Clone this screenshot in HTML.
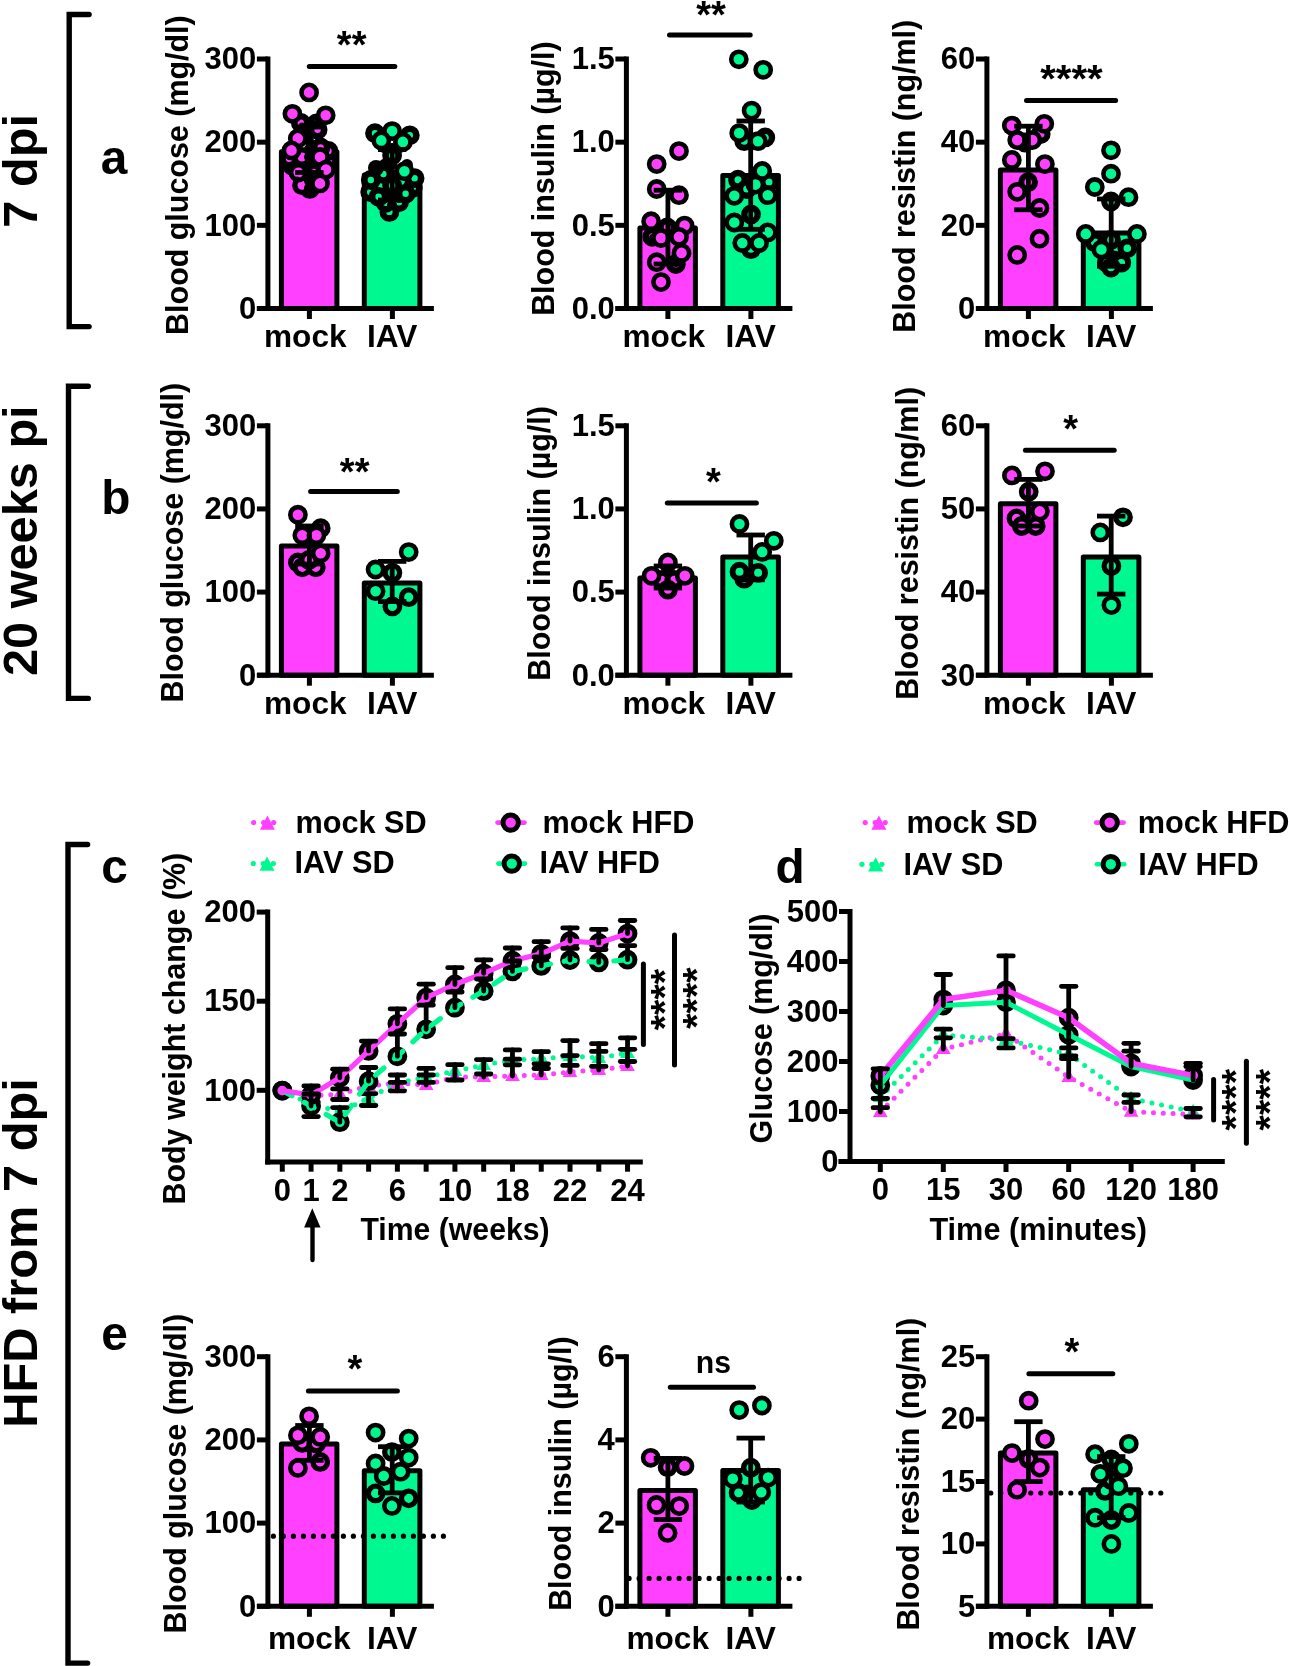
<!DOCTYPE html><html><head><meta charset="utf-8"><style>html,body{margin:0;padding:0;background:#fff;}svg{display:block;will-change:transform;}</style></head><body><svg width="1289" height="1666" viewBox="0 0 1289 1666" style="font-family:&quot;Liberation Sans&quot;, sans-serif;font-weight:bold">
<rect width="1289" height="1666" fill="#fff"/>
<path d="M89.1,14.5 L69.2,14.5 L69.2,326.6 L89.1,326.6" fill="none" stroke="#000" stroke-width="5.4" stroke-linecap="round" stroke-linejoin="miter"/>
<path d="M88.3,386.2 L68.5,386.2 L68.5,698.4 L88.3,698.4" fill="none" stroke="#000" stroke-width="5.4" stroke-linecap="round" stroke-linejoin="miter"/>
<path d="M87.6,844.5 L68.0,844.5 L68.0,1663.1 L87.6,1663.1" fill="none" stroke="#000" stroke-width="5.4" stroke-linecap="round" stroke-linejoin="miter"/>
<text transform="translate(36.70,170.85) rotate(-90) scale(0.994,1)" font-size="49" text-anchor="middle" fill="#000">7 dpi</text>
<text transform="translate(36.80,540.70) rotate(-90) scale(0.994,1)" font-size="49" text-anchor="middle" fill="#000">20 weeks pi</text>
<text transform="translate(36.60,1253.00) rotate(-90) scale(0.996,1)" font-size="49" text-anchor="middle" fill="#000">HFD from 7 dpi</text>
<text transform="translate(114.00,173.60) scale(0.975,1)" font-size="49" text-anchor="middle" fill="#000">a</text>
<text transform="translate(115.80,513.50) scale(0.975,1)" font-size="49" text-anchor="middle" fill="#000">b</text>
<text transform="translate(114.50,883.00) scale(0.975,1)" font-size="49" text-anchor="middle" fill="#000">c</text>
<text transform="translate(790.00,883.30) scale(0.975,1)" font-size="49" text-anchor="middle" fill="#000">d</text>
<text transform="translate(114.50,1350.30) scale(0.975,1)" font-size="49" text-anchor="middle" fill="#000">e</text>
<rect x="281.40" y="151.80" width="55.50" height="156.70" fill="#ff40ff" stroke="#000" stroke-width="5.0" stroke-linejoin="round"/>
<rect x="364.30" y="175.00" width="55.60" height="133.50" fill="#00f891" stroke="#000" stroke-width="5.0" stroke-linejoin="round"/>
<circle cx="316.40" cy="123.40" r="6.550000000000001" fill="#ff40ff" stroke="#000" stroke-width="6.7"/>
<circle cx="309.80" cy="188.90" r="6.550000000000001" fill="#ff40ff" stroke="#000" stroke-width="6.7"/>
<circle cx="302.00" cy="185.20" r="7.2" fill="#ff40ff" stroke="#000" stroke-width="5.4"/>
<circle cx="292.00" cy="165.40" r="6.550000000000001" fill="#ff40ff" stroke="#000" stroke-width="6.7"/>
<circle cx="289.00" cy="158.80" r="6.550000000000001" fill="#ff40ff" stroke="#000" stroke-width="6.7"/>
<circle cx="329.00" cy="160.00" r="6.550000000000001" fill="#ff40ff" stroke="#000" stroke-width="6.7"/>
<circle cx="302.00" cy="157.00" r="7.2" fill="#ff40ff" stroke="#000" stroke-width="5.4"/>
<circle cx="328.50" cy="151.00" r="6.550000000000001" fill="#ff40ff" stroke="#000" stroke-width="6.7"/>
<circle cx="320.60" cy="147.40" r="6.550000000000001" fill="#ff40ff" stroke="#000" stroke-width="6.7"/>
<circle cx="317.60" cy="129.70" r="6.550000000000001" fill="#ff40ff" stroke="#000" stroke-width="6.7"/>
<circle cx="300.80" cy="122.80" r="6.550000000000001" fill="#ff40ff" stroke="#000" stroke-width="6.7"/>
<circle cx="313.40" cy="172.00" r="6.550000000000001" fill="#ff40ff" stroke="#000" stroke-width="6.7"/>
<circle cx="298.40" cy="172.60" r="7.45" fill="#ff40ff" stroke="#000" stroke-width="4.9"/>
<circle cx="389.40" cy="211.90" r="6.550000000000001" fill="#00f891" stroke="#000" stroke-width="6.7"/>
<circle cx="385.80" cy="202.80" r="6.550000000000001" fill="#00f891" stroke="#000" stroke-width="6.7"/>
<circle cx="399.00" cy="202.20" r="6.550000000000001" fill="#00f891" stroke="#000" stroke-width="6.7"/>
<circle cx="370.20" cy="192.00" r="6.550000000000001" fill="#00f891" stroke="#000" stroke-width="6.7"/>
<circle cx="412.80" cy="187.80" r="6.550000000000001" fill="#00f891" stroke="#000" stroke-width="6.7"/>
<circle cx="414.60" cy="178.20" r="6.550000000000001" fill="#00f891" stroke="#000" stroke-width="6.7"/>
<circle cx="370.80" cy="180.00" r="6.550000000000001" fill="#00f891" stroke="#000" stroke-width="6.7"/>
<circle cx="378.60" cy="196.80" r="6.550000000000001" fill="#00f891" stroke="#000" stroke-width="6.7"/>
<circle cx="405.60" cy="193.80" r="6.550000000000001" fill="#00f891" stroke="#000" stroke-width="6.7"/>
<circle cx="392.10" cy="185.40" r="6.550000000000001" fill="#00f891" stroke="#000" stroke-width="6.7"/>
<circle cx="383.40" cy="174.00" r="6.550000000000001" fill="#00f891" stroke="#000" stroke-width="6.7"/>
<circle cx="392.10" cy="155.40" r="6.550000000000001" fill="#00f891" stroke="#000" stroke-width="6.7"/>
<circle cx="375.00" cy="133.20" r="6.550000000000001" fill="#00f891" stroke="#000" stroke-width="6.7"/>
<circle cx="409.80" cy="135.30" r="6.550000000000001" fill="#00f891" stroke="#000" stroke-width="6.7"/>
<circle cx="309.00" cy="133.00" r="5" fill="#000"/>
<circle cx="309.00" cy="141.00" r="5" fill="#000"/>
<circle cx="309.00" cy="149.00" r="5" fill="#000"/>
<circle cx="309.00" cy="157.00" r="5" fill="#000"/>
<circle cx="309.00" cy="165.00" r="5" fill="#000"/>
<circle cx="309.00" cy="173.00" r="5" fill="#000"/>
<circle cx="309.00" cy="181.00" r="5" fill="#000"/>
<circle cx="309.00" cy="188.00" r="5" fill="#000"/>
<circle cx="302.00" cy="125.50" r="3" fill="#000"/>
<circle cx="313.00" cy="125.50" r="3" fill="#000"/>
<circle cx="297.00" cy="179.50" r="3" fill="#000"/>
<circle cx="322.00" cy="177.00" r="3.5" fill="#000"/>
<circle cx="376.00" cy="168.00" r="8" fill="#000"/>
<circle cx="384.00" cy="164.00" r="5" fill="#000"/>
<circle cx="407.00" cy="165.00" r="6" fill="#000"/>
<circle cx="392.00" cy="148.00" r="5" fill="#000"/>
<circle cx="384.00" cy="149.00" r="4" fill="#000"/>
<circle cx="400.00" cy="149.00" r="4" fill="#000"/>
<circle cx="392.00" cy="165.00" r="5" fill="#000"/>
<circle cx="392.00" cy="174.00" r="5" fill="#000"/>
<circle cx="392.00" cy="196.00" r="5" fill="#000"/>
<circle cx="392.00" cy="205.00" r="5" fill="#000"/>
<circle cx="385.00" cy="200.00" r="3" fill="#000"/>
<circle cx="399.00" cy="200.00" r="3" fill="#000"/>
<circle cx="309.10" cy="92.40" r="7.6" fill="#ff40ff" stroke="#000" stroke-width="4.6"/>
<circle cx="292.40" cy="113.80" r="7.6" fill="#ff40ff" stroke="#000" stroke-width="4.6"/>
<circle cx="325.70" cy="115.30" r="7.6" fill="#ff40ff" stroke="#000" stroke-width="4.6"/>
<circle cx="297.80" cy="138.40" r="7.6" fill="#ff40ff" stroke="#000" stroke-width="4.6"/>
<circle cx="291.50" cy="150.40" r="7.6" fill="#ff40ff" stroke="#000" stroke-width="4.6"/>
<circle cx="320.00" cy="157.00" r="7.6" fill="#ff40ff" stroke="#000" stroke-width="4.6"/>
<circle cx="326.00" cy="169.60" r="7.6" fill="#ff40ff" stroke="#000" stroke-width="4.6"/>
<circle cx="320.00" cy="183.40" r="7.6" fill="#ff40ff" stroke="#000" stroke-width="4.6"/>
<circle cx="392.10" cy="131.10" r="7.6" fill="#00f891" stroke="#000" stroke-width="4.6"/>
<circle cx="381.30" cy="140.40" r="7.6" fill="#00f891" stroke="#000" stroke-width="4.6"/>
<circle cx="402.90" cy="141.90" r="7.6" fill="#00f891" stroke="#000" stroke-width="4.6"/>
<circle cx="404.40" cy="171.30" r="7.6" fill="#00f891" stroke="#000" stroke-width="4.6"/>
<line x1="309.40" y1="127.00" x2="309.40" y2="172.50" stroke="#000" stroke-width="4.8" stroke-linecap="butt" />
<line x1="295.20" y1="127.00" x2="323.60" y2="127.00" stroke="#000" stroke-width="4.8" stroke-linecap="butt" />
<line x1="295.20" y1="172.50" x2="323.60" y2="172.50" stroke="#000" stroke-width="4.8" stroke-linecap="butt" />
<line x1="392.20" y1="149.60" x2="392.20" y2="200.00" stroke="#000" stroke-width="4.8" stroke-linecap="butt" />
<line x1="378.00" y1="149.60" x2="406.40" y2="149.60" stroke="#000" stroke-width="4.8" stroke-linecap="butt" />
<line x1="378.00" y1="200.00" x2="406.40" y2="200.00" stroke="#000" stroke-width="4.8" stroke-linecap="butt" />
<line x1="267.90" y1="56.50" x2="267.90" y2="310.90" stroke="#000" stroke-width="5.0" stroke-linecap="butt" />
<line x1="256.90" y1="308.50" x2="433.90" y2="308.50" stroke="#000" stroke-width="5.0" stroke-linecap="butt" />
<line x1="256.90" y1="308.50" x2="267.90" y2="308.50" stroke="#000" stroke-width="5.0" stroke-linecap="butt" />
<text transform="translate(256.30,318.80)" font-size="31" text-anchor="end" fill="#000">0</text>
<line x1="256.90" y1="225.33" x2="267.90" y2="225.33" stroke="#000" stroke-width="5.0" stroke-linecap="butt" />
<text transform="translate(256.30,235.63)" font-size="31" text-anchor="end" fill="#000">100</text>
<line x1="256.90" y1="142.17" x2="267.90" y2="142.17" stroke="#000" stroke-width="5.0" stroke-linecap="butt" />
<text transform="translate(256.30,152.47)" font-size="31" text-anchor="end" fill="#000">200</text>
<line x1="256.90" y1="59.00" x2="267.90" y2="59.00" stroke="#000" stroke-width="5.0" stroke-linecap="butt" />
<text transform="translate(256.30,69.30)" font-size="31" text-anchor="end" fill="#000">300</text>
<line x1="309.40" y1="308.50" x2="309.40" y2="319.00" stroke="#000" stroke-width="5.0" stroke-linecap="butt" />
<line x1="392.40" y1="308.50" x2="392.40" y2="319.00" stroke="#000" stroke-width="5.0" stroke-linecap="butt" />
<text transform="translate(305.30,347.40) scale(1.02,1)" font-size="31" text-anchor="middle" fill="#000">mock</text>
<text transform="translate(392.20,347.40) scale(1.02,1)" font-size="31" text-anchor="middle" fill="#000">IAV</text>
<text transform="translate(188.00,175.10) rotate(-90) scale(0.982,1)" font-size="31" text-anchor="middle" fill="#000">Blood glucose (mg/dl)</text>
<line x1="309.30" y1="66.40" x2="394.80" y2="66.40" stroke="#000" stroke-width="5" stroke-linecap="round" />
<text transform="translate(351.65,58.00) scale(0.975,1)" font-size="39" text-anchor="middle" fill="#000">**</text>
<rect x="639.90" y="228.00" width="55.50" height="80.50" fill="#ff40ff" stroke="#000" stroke-width="5.0" stroke-linejoin="round"/>
<rect x="722.80" y="175.50" width="55.60" height="133.00" fill="#00f891" stroke="#000" stroke-width="5.0" stroke-linejoin="round"/>
<circle cx="667.20" cy="227.40" r="6.7" fill="#ff40ff" stroke="#000" stroke-width="6.4"/>
<circle cx="652.30" cy="236.80" r="6.7" fill="#ff40ff" stroke="#000" stroke-width="6.4"/>
<circle cx="675.90" cy="264.00" r="6.7" fill="#ff40ff" stroke="#000" stroke-width="6.4"/>
<circle cx="765.30" cy="137.40" r="6.7" fill="#00f891" stroke="#000" stroke-width="6.4"/>
<circle cx="744.20" cy="141.20" r="6.7" fill="#00f891" stroke="#000" stroke-width="6.4"/>
<circle cx="738.00" cy="179.70" r="6.7" fill="#00f891" stroke="#000" stroke-width="6.4"/>
<circle cx="746.70" cy="189.00" r="6.7" fill="#00f891" stroke="#000" stroke-width="6.4"/>
<circle cx="769.00" cy="182.10" r="6.7" fill="#00f891" stroke="#000" stroke-width="6.4"/>
<circle cx="751.00" cy="214.40" r="6.7" fill="#00f891" stroke="#000" stroke-width="6.4"/>
<circle cx="751.00" cy="249.20" r="6.7" fill="#00f891" stroke="#000" stroke-width="6.4"/>
<circle cx="676.00" cy="262.00" r="5" fill="#000"/>
<circle cx="653.00" cy="238.00" r="4" fill="#000"/>
<circle cx="679.00" cy="151.10" r="7.6" fill="#ff40ff" stroke="#000" stroke-width="4.6"/>
<circle cx="656.70" cy="164.10" r="7.6" fill="#ff40ff" stroke="#000" stroke-width="4.6"/>
<circle cx="656.70" cy="189.00" r="7.6" fill="#ff40ff" stroke="#000" stroke-width="4.6"/>
<circle cx="679.00" cy="195.20" r="7.6" fill="#ff40ff" stroke="#000" stroke-width="4.6"/>
<circle cx="651.10" cy="221.20" r="7.6" fill="#ff40ff" stroke="#000" stroke-width="4.6"/>
<circle cx="684.60" cy="225.60" r="7.6" fill="#ff40ff" stroke="#000" stroke-width="4.6"/>
<circle cx="661.00" cy="238.00" r="7.6" fill="#ff40ff" stroke="#000" stroke-width="4.6"/>
<circle cx="679.00" cy="236.80" r="7.6" fill="#ff40ff" stroke="#000" stroke-width="4.6"/>
<circle cx="681.50" cy="252.90" r="7.6" fill="#ff40ff" stroke="#000" stroke-width="4.6"/>
<circle cx="656.70" cy="262.20" r="7.6" fill="#ff40ff" stroke="#000" stroke-width="4.6"/>
<circle cx="661.00" cy="282.10" r="7.6" fill="#ff40ff" stroke="#000" stroke-width="4.6"/>
<circle cx="738.80" cy="59.30" r="7.6" fill="#00f891" stroke="#000" stroke-width="4.6"/>
<circle cx="763.20" cy="69.80" r="7.6" fill="#00f891" stroke="#000" stroke-width="4.6"/>
<circle cx="751.60" cy="110.60" r="7.6" fill="#00f891" stroke="#000" stroke-width="4.6"/>
<circle cx="739.20" cy="133.10" r="7.6" fill="#00f891" stroke="#000" stroke-width="4.6"/>
<circle cx="757.90" cy="141.20" r="7.6" fill="#00f891" stroke="#000" stroke-width="4.6"/>
<circle cx="762.20" cy="171.00" r="7.6" fill="#00f891" stroke="#000" stroke-width="4.6"/>
<circle cx="755.40" cy="184.60" r="7.6" fill="#00f891" stroke="#000" stroke-width="4.6"/>
<circle cx="734.30" cy="195.80" r="7.6" fill="#00f891" stroke="#000" stroke-width="4.6"/>
<circle cx="767.80" cy="195.20" r="7.6" fill="#00f891" stroke="#000" stroke-width="4.6"/>
<circle cx="734.30" cy="222.50" r="7.6" fill="#00f891" stroke="#000" stroke-width="4.6"/>
<circle cx="767.80" cy="232.40" r="7.6" fill="#00f891" stroke="#000" stroke-width="4.6"/>
<circle cx="742.30" cy="243.00" r="7.6" fill="#00f891" stroke="#000" stroke-width="4.6"/>
<circle cx="759.10" cy="243.00" r="7.6" fill="#00f891" stroke="#000" stroke-width="4.6"/>
<line x1="667.90" y1="190.20" x2="667.90" y2="264.00" stroke="#000" stroke-width="4.8" stroke-linecap="butt" />
<line x1="653.70" y1="190.20" x2="682.10" y2="190.20" stroke="#000" stroke-width="4.8" stroke-linecap="butt" />
<line x1="653.70" y1="264.00" x2="682.10" y2="264.00" stroke="#000" stroke-width="4.8" stroke-linecap="butt" />
<line x1="750.70" y1="121.00" x2="750.70" y2="229.30" stroke="#000" stroke-width="4.8" stroke-linecap="butt" />
<line x1="736.50" y1="121.00" x2="764.90" y2="121.00" stroke="#000" stroke-width="4.8" stroke-linecap="butt" />
<line x1="736.50" y1="229.30" x2="764.90" y2="229.30" stroke="#000" stroke-width="4.8" stroke-linecap="butt" />
<line x1="626.40" y1="56.50" x2="626.40" y2="310.90" stroke="#000" stroke-width="5.0" stroke-linecap="butt" />
<line x1="615.40" y1="308.50" x2="792.40" y2="308.50" stroke="#000" stroke-width="5.0" stroke-linecap="butt" />
<line x1="615.40" y1="308.50" x2="626.40" y2="308.50" stroke="#000" stroke-width="5.0" stroke-linecap="butt" />
<text transform="translate(614.80,318.80)" font-size="31" text-anchor="end" fill="#000">0.0</text>
<line x1="615.40" y1="225.33" x2="626.40" y2="225.33" stroke="#000" stroke-width="5.0" stroke-linecap="butt" />
<text transform="translate(614.80,235.63)" font-size="31" text-anchor="end" fill="#000">0.5</text>
<line x1="615.40" y1="142.17" x2="626.40" y2="142.17" stroke="#000" stroke-width="5.0" stroke-linecap="butt" />
<text transform="translate(614.80,152.47)" font-size="31" text-anchor="end" fill="#000">1.0</text>
<line x1="615.40" y1="59.00" x2="626.40" y2="59.00" stroke="#000" stroke-width="5.0" stroke-linecap="butt" />
<text transform="translate(614.80,69.30)" font-size="31" text-anchor="end" fill="#000">1.5</text>
<line x1="667.90" y1="308.50" x2="667.90" y2="319.00" stroke="#000" stroke-width="5.0" stroke-linecap="butt" />
<line x1="750.90" y1="308.50" x2="750.90" y2="319.00" stroke="#000" stroke-width="5.0" stroke-linecap="butt" />
<text transform="translate(663.80,347.40) scale(1.02,1)" font-size="31" text-anchor="middle" fill="#000">mock</text>
<text transform="translate(750.70,347.40) scale(1.02,1)" font-size="31" text-anchor="middle" fill="#000">IAV</text>
<text transform="translate(553.90,178.60) rotate(-90) scale(0.982,1)" font-size="31" text-anchor="middle" fill="#000">Blood insulin (µg/l)</text>
<line x1="669.50" y1="35.00" x2="750.20" y2="35.00" stroke="#000" stroke-width="5" stroke-linecap="round" />
<text transform="translate(710.95,27.50) scale(0.975,1)" font-size="39" text-anchor="middle" fill="#000">**</text>
<rect x="1000.40" y="170.00" width="55.50" height="138.50" fill="#ff40ff" stroke="#000" stroke-width="5.0" stroke-linejoin="round"/>
<rect x="1083.30" y="233.00" width="55.60" height="75.50" fill="#00f891" stroke="#000" stroke-width="5.0" stroke-linejoin="round"/>
<circle cx="1040.70" cy="134.00" r="6.85" fill="#ff40ff" stroke="#000" stroke-width="6.1000000000000005"/>
<circle cx="1025.00" cy="142.50" r="6.85" fill="#ff40ff" stroke="#000" stroke-width="6.1000000000000005"/>
<circle cx="1028.10" cy="182.20" r="6.85" fill="#ff40ff" stroke="#000" stroke-width="6.1000000000000005"/>
<circle cx="1111.00" cy="201.40" r="6.85" fill="#00f891" stroke="#000" stroke-width="6.1000000000000005"/>
<circle cx="1094.80" cy="242.30" r="6.85" fill="#00f891" stroke="#000" stroke-width="6.1000000000000005"/>
<circle cx="1127.30" cy="248.30" r="6.85" fill="#00f891" stroke="#000" stroke-width="6.1000000000000005"/>
<circle cx="1111.00" cy="239.90" r="6.85" fill="#00f891" stroke="#000" stroke-width="6.1000000000000005"/>
<circle cx="1114.00" cy="260.30" r="6.85" fill="#00f891" stroke="#000" stroke-width="6.1000000000000005"/>
<circle cx="1106.80" cy="262.70" r="6.85" fill="#00f891" stroke="#000" stroke-width="6.1000000000000005"/>
<circle cx="1121.30" cy="262.70" r="6.85" fill="#00f891" stroke="#000" stroke-width="6.1000000000000005"/>
<circle cx="1111.00" cy="267.50" r="6.85" fill="#00f891" stroke="#000" stroke-width="6.1000000000000005"/>
<circle cx="1011.80" cy="125.60" r="7.6" fill="#ff40ff" stroke="#000" stroke-width="4.6"/>
<circle cx="1044.30" cy="123.80" r="7.6" fill="#ff40ff" stroke="#000" stroke-width="4.6"/>
<circle cx="1017.20" cy="140.10" r="7.6" fill="#ff40ff" stroke="#000" stroke-width="4.6"/>
<circle cx="1032.30" cy="140.10" r="7.6" fill="#ff40ff" stroke="#000" stroke-width="4.6"/>
<circle cx="1011.80" cy="159.90" r="7.6" fill="#ff40ff" stroke="#000" stroke-width="4.6"/>
<circle cx="1044.90" cy="164.10" r="7.6" fill="#ff40ff" stroke="#000" stroke-width="4.6"/>
<circle cx="1017.20" cy="191.80" r="7.6" fill="#ff40ff" stroke="#000" stroke-width="4.6"/>
<circle cx="1039.50" cy="208.00" r="7.6" fill="#ff40ff" stroke="#000" stroke-width="4.6"/>
<circle cx="1039.50" cy="238.70" r="7.6" fill="#ff40ff" stroke="#000" stroke-width="4.6"/>
<circle cx="1017.20" cy="254.90" r="7.6" fill="#ff40ff" stroke="#000" stroke-width="4.6"/>
<circle cx="1111.00" cy="150.30" r="7.6" fill="#00f891" stroke="#000" stroke-width="4.6"/>
<circle cx="1111.00" cy="173.70" r="7.6" fill="#00f891" stroke="#000" stroke-width="4.6"/>
<circle cx="1094.80" cy="187.00" r="7.6" fill="#00f891" stroke="#000" stroke-width="4.6"/>
<circle cx="1128.50" cy="197.20" r="7.6" fill="#00f891" stroke="#000" stroke-width="4.6"/>
<circle cx="1085.80" cy="233.90" r="7.6" fill="#00f891" stroke="#000" stroke-width="4.6"/>
<circle cx="1136.90" cy="233.90" r="7.6" fill="#00f891" stroke="#000" stroke-width="4.6"/>
<circle cx="1101.40" cy="249.50" r="7.6" fill="#00f891" stroke="#000" stroke-width="4.6"/>
<line x1="1028.40" y1="126.20" x2="1028.40" y2="209.80" stroke="#000" stroke-width="4.8" stroke-linecap="butt" />
<line x1="1014.20" y1="126.20" x2="1042.60" y2="126.20" stroke="#000" stroke-width="4.8" stroke-linecap="butt" />
<line x1="1014.20" y1="209.80" x2="1042.60" y2="209.80" stroke="#000" stroke-width="4.8" stroke-linecap="butt" />
<line x1="1111.20" y1="199.00" x2="1111.20" y2="266.30" stroke="#000" stroke-width="4.8" stroke-linecap="butt" />
<line x1="1097.00" y1="199.00" x2="1125.40" y2="199.00" stroke="#000" stroke-width="4.8" stroke-linecap="butt" />
<line x1="1097.00" y1="266.30" x2="1125.40" y2="266.30" stroke="#000" stroke-width="4.8" stroke-linecap="butt" />
<line x1="986.90" y1="56.50" x2="986.90" y2="310.90" stroke="#000" stroke-width="5.0" stroke-linecap="butt" />
<line x1="975.90" y1="308.50" x2="1152.90" y2="308.50" stroke="#000" stroke-width="5.0" stroke-linecap="butt" />
<line x1="975.90" y1="308.50" x2="986.90" y2="308.50" stroke="#000" stroke-width="5.0" stroke-linecap="butt" />
<text transform="translate(975.30,318.80)" font-size="31" text-anchor="end" fill="#000">0</text>
<line x1="975.90" y1="225.33" x2="986.90" y2="225.33" stroke="#000" stroke-width="5.0" stroke-linecap="butt" />
<text transform="translate(975.30,235.63)" font-size="31" text-anchor="end" fill="#000">20</text>
<line x1="975.90" y1="142.17" x2="986.90" y2="142.17" stroke="#000" stroke-width="5.0" stroke-linecap="butt" />
<text transform="translate(975.30,152.47)" font-size="31" text-anchor="end" fill="#000">40</text>
<line x1="975.90" y1="59.00" x2="986.90" y2="59.00" stroke="#000" stroke-width="5.0" stroke-linecap="butt" />
<text transform="translate(975.30,69.30)" font-size="31" text-anchor="end" fill="#000">60</text>
<line x1="1028.40" y1="308.50" x2="1028.40" y2="319.00" stroke="#000" stroke-width="5.0" stroke-linecap="butt" />
<line x1="1111.40" y1="308.50" x2="1111.40" y2="319.00" stroke="#000" stroke-width="5.0" stroke-linecap="butt" />
<text transform="translate(1024.30,347.40) scale(1.02,1)" font-size="31" text-anchor="middle" fill="#000">mock</text>
<text transform="translate(1111.20,347.40) scale(1.02,1)" font-size="31" text-anchor="middle" fill="#000">IAV</text>
<text transform="translate(914.70,176.30) rotate(-90) scale(0.982,1)" font-size="31" text-anchor="middle" fill="#000">Blood resistin (ng/ml)</text>
<line x1="1026.50" y1="100.50" x2="1115.60" y2="100.50" stroke="#000" stroke-width="5" stroke-linecap="round" />
<text transform="translate(1071.45,91.60) scale(1.03,1)" font-size="39" text-anchor="middle" fill="#000">****</text>
<rect x="281.40" y="545.90" width="55.50" height="129.30" fill="#ff40ff" stroke="#000" stroke-width="5.0" stroke-linejoin="round"/>
<rect x="364.30" y="583.00" width="55.60" height="92.20" fill="#00f891" stroke="#000" stroke-width="5.0" stroke-linejoin="round"/>
<circle cx="320.70" cy="528.20" r="7.25" fill="#ff40ff" stroke="#000" stroke-width="5.300000000000001"/>
<circle cx="297.90" cy="562.50" r="7.25" fill="#ff40ff" stroke="#000" stroke-width="5.300000000000001"/>
<circle cx="302.30" cy="567.30" r="7.25" fill="#ff40ff" stroke="#000" stroke-width="5.300000000000001"/>
<circle cx="315.80" cy="567.30" r="7.25" fill="#ff40ff" stroke="#000" stroke-width="5.300000000000001"/>
<circle cx="309.00" cy="560.00" r="7.25" fill="#ff40ff" stroke="#000" stroke-width="5.300000000000001"/>
<circle cx="392.40" cy="572.80" r="7.25" fill="#00f891" stroke="#000" stroke-width="5.300000000000001"/>
<circle cx="408.70" cy="597.20" r="7.25" fill="#00f891" stroke="#000" stroke-width="5.300000000000001"/>
<circle cx="392.40" cy="606.40" r="7.25" fill="#00f891" stroke="#000" stroke-width="5.300000000000001"/>
<circle cx="297.90" cy="514.70" r="7.6" fill="#ff40ff" stroke="#000" stroke-width="4.6"/>
<circle cx="302.30" cy="535.30" r="7.6" fill="#ff40ff" stroke="#000" stroke-width="4.6"/>
<circle cx="316.40" cy="535.30" r="7.6" fill="#ff40ff" stroke="#000" stroke-width="4.6"/>
<circle cx="320.70" cy="553.20" r="7.6" fill="#ff40ff" stroke="#000" stroke-width="4.6"/>
<circle cx="408.70" cy="552.10" r="7.6" fill="#00f891" stroke="#000" stroke-width="4.6"/>
<circle cx="375.60" cy="569.50" r="7.6" fill="#00f891" stroke="#000" stroke-width="4.6"/>
<circle cx="375.60" cy="591.20" r="7.6" fill="#00f891" stroke="#000" stroke-width="4.6"/>
<line x1="309.40" y1="526.00" x2="309.40" y2="564.00" stroke="#000" stroke-width="4.8" stroke-linecap="butt" />
<line x1="295.20" y1="526.00" x2="323.60" y2="526.00" stroke="#000" stroke-width="4.8" stroke-linecap="butt" />
<line x1="295.20" y1="564.00" x2="323.60" y2="564.00" stroke="#000" stroke-width="4.8" stroke-linecap="butt" />
<line x1="392.20" y1="561.40" x2="392.20" y2="601.60" stroke="#000" stroke-width="4.8" stroke-linecap="butt" />
<line x1="378.00" y1="561.40" x2="406.40" y2="561.40" stroke="#000" stroke-width="4.8" stroke-linecap="butt" />
<line x1="378.00" y1="601.60" x2="406.40" y2="601.60" stroke="#000" stroke-width="4.8" stroke-linecap="butt" />
<line x1="267.90" y1="423.30" x2="267.90" y2="677.60" stroke="#000" stroke-width="5.0" stroke-linecap="butt" />
<line x1="256.90" y1="675.20" x2="433.90" y2="675.20" stroke="#000" stroke-width="5.0" stroke-linecap="butt" />
<line x1="256.90" y1="675.20" x2="267.90" y2="675.20" stroke="#000" stroke-width="5.0" stroke-linecap="butt" />
<text transform="translate(256.30,685.50)" font-size="31" text-anchor="end" fill="#000">0</text>
<line x1="256.90" y1="592.07" x2="267.90" y2="592.07" stroke="#000" stroke-width="5.0" stroke-linecap="butt" />
<text transform="translate(256.30,602.37)" font-size="31" text-anchor="end" fill="#000">100</text>
<line x1="256.90" y1="508.93" x2="267.90" y2="508.93" stroke="#000" stroke-width="5.0" stroke-linecap="butt" />
<text transform="translate(256.30,519.23)" font-size="31" text-anchor="end" fill="#000">200</text>
<line x1="256.90" y1="425.80" x2="267.90" y2="425.80" stroke="#000" stroke-width="5.0" stroke-linecap="butt" />
<text transform="translate(256.30,436.10)" font-size="31" text-anchor="end" fill="#000">300</text>
<line x1="309.40" y1="675.20" x2="309.40" y2="685.70" stroke="#000" stroke-width="5.0" stroke-linecap="butt" />
<line x1="392.40" y1="675.20" x2="392.40" y2="685.70" stroke="#000" stroke-width="5.0" stroke-linecap="butt" />
<text transform="translate(305.30,714.10) scale(1.02,1)" font-size="31" text-anchor="middle" fill="#000">mock</text>
<text transform="translate(392.20,714.10) scale(1.02,1)" font-size="31" text-anchor="middle" fill="#000">IAV</text>
<text transform="translate(182.80,542.70) rotate(-90) scale(0.982,1)" font-size="31" text-anchor="middle" fill="#000">Blood glucose (mg/dl)</text>
<line x1="310.60" y1="491.60" x2="397.30" y2="491.60" stroke="#000" stroke-width="5" stroke-linecap="round" />
<text transform="translate(354.65,484.50) scale(0.975,1)" font-size="39" text-anchor="middle" fill="#000">**</text>
<rect x="639.90" y="578.00" width="55.50" height="97.20" fill="#ff40ff" stroke="#000" stroke-width="5.0" stroke-linejoin="round"/>
<rect x="722.80" y="557.00" width="55.60" height="118.20" fill="#00f891" stroke="#000" stroke-width="5.0" stroke-linejoin="round"/>
<circle cx="661.50" cy="579.80" r="6.95" fill="#ff40ff" stroke="#000" stroke-width="5.9"/>
<circle cx="674.30" cy="579.80" r="6.95" fill="#ff40ff" stroke="#000" stroke-width="5.9"/>
<circle cx="667.90" cy="589.70" r="6.95" fill="#ff40ff" stroke="#000" stroke-width="5.9"/>
<circle cx="744.20" cy="578.70" r="6.95" fill="#00f891" stroke="#000" stroke-width="5.9"/>
<circle cx="739.50" cy="571.70" r="6.95" fill="#00f891" stroke="#000" stroke-width="5.9"/>
<circle cx="758.10" cy="572.80" r="6.95" fill="#00f891" stroke="#000" stroke-width="5.9"/>
<circle cx="667.90" cy="562.40" r="7.6" fill="#ff40ff" stroke="#000" stroke-width="4.6"/>
<circle cx="651.60" cy="575.80" r="7.6" fill="#ff40ff" stroke="#000" stroke-width="4.6"/>
<circle cx="684.80" cy="575.80" r="7.6" fill="#ff40ff" stroke="#000" stroke-width="4.6"/>
<circle cx="739.50" cy="524.00" r="7.6" fill="#00f891" stroke="#000" stroke-width="4.6"/>
<circle cx="773.80" cy="540.80" r="7.6" fill="#00f891" stroke="#000" stroke-width="4.6"/>
<circle cx="762.20" cy="551.90" r="7.6" fill="#00f891" stroke="#000" stroke-width="4.6"/>
<line x1="667.90" y1="566.00" x2="667.90" y2="588.00" stroke="#000" stroke-width="4.8" stroke-linecap="butt" />
<line x1="653.70" y1="566.00" x2="682.10" y2="566.00" stroke="#000" stroke-width="4.8" stroke-linecap="butt" />
<line x1="653.70" y1="588.00" x2="682.10" y2="588.00" stroke="#000" stroke-width="4.8" stroke-linecap="butt" />
<line x1="750.70" y1="535.00" x2="750.70" y2="579.80" stroke="#000" stroke-width="4.8" stroke-linecap="butt" />
<line x1="736.50" y1="535.00" x2="764.90" y2="535.00" stroke="#000" stroke-width="4.8" stroke-linecap="butt" />
<line x1="736.50" y1="579.80" x2="764.90" y2="579.80" stroke="#000" stroke-width="4.8" stroke-linecap="butt" />
<line x1="626.40" y1="423.30" x2="626.40" y2="677.60" stroke="#000" stroke-width="5.0" stroke-linecap="butt" />
<line x1="615.40" y1="675.20" x2="792.40" y2="675.20" stroke="#000" stroke-width="5.0" stroke-linecap="butt" />
<line x1="615.40" y1="675.20" x2="626.40" y2="675.20" stroke="#000" stroke-width="5.0" stroke-linecap="butt" />
<text transform="translate(614.80,685.50)" font-size="31" text-anchor="end" fill="#000">0.0</text>
<line x1="615.40" y1="592.07" x2="626.40" y2="592.07" stroke="#000" stroke-width="5.0" stroke-linecap="butt" />
<text transform="translate(614.80,602.37)" font-size="31" text-anchor="end" fill="#000">0.5</text>
<line x1="615.40" y1="508.93" x2="626.40" y2="508.93" stroke="#000" stroke-width="5.0" stroke-linecap="butt" />
<text transform="translate(614.80,519.23)" font-size="31" text-anchor="end" fill="#000">1.0</text>
<line x1="615.40" y1="425.80" x2="626.40" y2="425.80" stroke="#000" stroke-width="5.0" stroke-linecap="butt" />
<text transform="translate(614.80,436.10)" font-size="31" text-anchor="end" fill="#000">1.5</text>
<line x1="667.90" y1="675.20" x2="667.90" y2="685.70" stroke="#000" stroke-width="5.0" stroke-linecap="butt" />
<line x1="750.90" y1="675.20" x2="750.90" y2="685.70" stroke="#000" stroke-width="5.0" stroke-linecap="butt" />
<text transform="translate(663.80,714.10) scale(1.02,1)" font-size="31" text-anchor="middle" fill="#000">mock</text>
<text transform="translate(750.70,714.10) scale(1.02,1)" font-size="31" text-anchor="middle" fill="#000">IAV</text>
<text transform="translate(550.30,543.40) rotate(-90) scale(0.982,1)" font-size="31" text-anchor="middle" fill="#000">Blood insulin (µg/l)</text>
<line x1="667.30" y1="503.00" x2="756.40" y2="503.00" stroke="#000" stroke-width="5" stroke-linecap="round" />
<text transform="translate(713.45,495.40) scale(0.975,1)" font-size="39" text-anchor="middle" fill="#000">*</text>
<rect x="1000.40" y="503.80" width="55.50" height="171.40" fill="#ff40ff" stroke="#000" stroke-width="5.0" stroke-linejoin="round"/>
<rect x="1083.30" y="557.00" width="55.60" height="118.20" fill="#00f891" stroke="#000" stroke-width="5.0" stroke-linejoin="round"/>
<circle cx="1028.70" cy="491.70" r="7.25" fill="#ff40ff" stroke="#000" stroke-width="5.300000000000001"/>
<circle cx="1016.50" cy="518.40" r="7.25" fill="#ff40ff" stroke="#000" stroke-width="5.300000000000001"/>
<circle cx="1021.80" cy="526.00" r="7.25" fill="#ff40ff" stroke="#000" stroke-width="5.300000000000001"/>
<circle cx="1035.70" cy="526.00" r="7.25" fill="#ff40ff" stroke="#000" stroke-width="5.300000000000001"/>
<circle cx="1123.00" cy="517.30" r="7.25" fill="#00f891" stroke="#000" stroke-width="5.300000000000001"/>
<circle cx="1111.40" cy="566.10" r="7.25" fill="#00f891" stroke="#000" stroke-width="5.300000000000001"/>
<circle cx="1011.90" cy="475.40" r="7.6" fill="#ff40ff" stroke="#000" stroke-width="4.6"/>
<circle cx="1045.00" cy="471.30" r="7.6" fill="#ff40ff" stroke="#000" stroke-width="4.6"/>
<circle cx="1039.80" cy="511.40" r="7.6" fill="#ff40ff" stroke="#000" stroke-width="4.6"/>
<circle cx="1100.30" cy="532.40" r="7.6" fill="#00f891" stroke="#000" stroke-width="4.6"/>
<circle cx="1111.40" cy="605.10" r="7.6" fill="#00f891" stroke="#000" stroke-width="4.6"/>
<line x1="1028.40" y1="479.40" x2="1028.40" y2="526.00" stroke="#000" stroke-width="4.8" stroke-linecap="butt" />
<line x1="1014.20" y1="479.40" x2="1042.60" y2="479.40" stroke="#000" stroke-width="4.8" stroke-linecap="butt" />
<line x1="1014.20" y1="526.00" x2="1042.60" y2="526.00" stroke="#000" stroke-width="4.8" stroke-linecap="butt" />
<line x1="1111.20" y1="516.10" x2="1111.20" y2="594.10" stroke="#000" stroke-width="4.8" stroke-linecap="butt" />
<line x1="1097.00" y1="516.10" x2="1125.40" y2="516.10" stroke="#000" stroke-width="4.8" stroke-linecap="butt" />
<line x1="1097.00" y1="594.10" x2="1125.40" y2="594.10" stroke="#000" stroke-width="4.8" stroke-linecap="butt" />
<line x1="986.90" y1="423.30" x2="986.90" y2="677.60" stroke="#000" stroke-width="5.0" stroke-linecap="butt" />
<line x1="975.90" y1="675.20" x2="1152.90" y2="675.20" stroke="#000" stroke-width="5.0" stroke-linecap="butt" />
<line x1="975.90" y1="675.20" x2="986.90" y2="675.20" stroke="#000" stroke-width="5.0" stroke-linecap="butt" />
<text transform="translate(975.30,685.50)" font-size="31" text-anchor="end" fill="#000">30</text>
<line x1="975.90" y1="592.07" x2="986.90" y2="592.07" stroke="#000" stroke-width="5.0" stroke-linecap="butt" />
<text transform="translate(975.30,602.37)" font-size="31" text-anchor="end" fill="#000">40</text>
<line x1="975.90" y1="508.93" x2="986.90" y2="508.93" stroke="#000" stroke-width="5.0" stroke-linecap="butt" />
<text transform="translate(975.30,519.23)" font-size="31" text-anchor="end" fill="#000">50</text>
<line x1="975.90" y1="425.80" x2="986.90" y2="425.80" stroke="#000" stroke-width="5.0" stroke-linecap="butt" />
<text transform="translate(975.30,436.10)" font-size="31" text-anchor="end" fill="#000">60</text>
<line x1="1028.40" y1="675.20" x2="1028.40" y2="685.70" stroke="#000" stroke-width="5.0" stroke-linecap="butt" />
<line x1="1111.40" y1="675.20" x2="1111.40" y2="685.70" stroke="#000" stroke-width="5.0" stroke-linecap="butt" />
<text transform="translate(1024.30,714.10) scale(1.02,1)" font-size="31" text-anchor="middle" fill="#000">mock</text>
<text transform="translate(1111.20,714.10) scale(1.02,1)" font-size="31" text-anchor="middle" fill="#000">IAV</text>
<text transform="translate(918.40,543.40) rotate(-90) scale(0.982,1)" font-size="31" text-anchor="middle" fill="#000">Blood resistin (ng/ml)</text>
<line x1="1025.40" y1="450.30" x2="1114.20" y2="450.30" stroke="#000" stroke-width="5" stroke-linecap="round" />
<text transform="translate(1070.70,442.00) scale(0.975,1)" font-size="39" text-anchor="middle" fill="#000">*</text>
<rect x="281.40" y="1444.00" width="55.50" height="162.30" fill="#ff40ff" stroke="#000" stroke-width="5.0" stroke-linejoin="round"/>
<rect x="364.30" y="1470.70" width="55.60" height="135.60" fill="#00f891" stroke="#000" stroke-width="5.0" stroke-linejoin="round"/>
<line x1="273.40" y1="1536.20" x2="443.60" y2="1536.20" stroke="#000" stroke-width="5.2" stroke-linecap="round" stroke-dasharray="0 10"/>
<circle cx="302.30" cy="1442.90" r="7.25" fill="#ff40ff" stroke="#000" stroke-width="5.300000000000001"/>
<circle cx="316.40" cy="1443.40" r="7.25" fill="#ff40ff" stroke="#000" stroke-width="5.300000000000001"/>
<circle cx="320.20" cy="1461.90" r="7.25" fill="#ff40ff" stroke="#000" stroke-width="5.300000000000001"/>
<circle cx="391.90" cy="1452.10" r="7.25" fill="#00f891" stroke="#000" stroke-width="5.300000000000001"/>
<circle cx="375.60" cy="1493.40" r="7.25" fill="#00f891" stroke="#000" stroke-width="5.300000000000001"/>
<circle cx="408.70" cy="1498.30" r="7.25" fill="#00f891" stroke="#000" stroke-width="5.300000000000001"/>
<circle cx="309.10" cy="1416.30" r="7.6" fill="#ff40ff" stroke="#000" stroke-width="4.6"/>
<circle cx="297.90" cy="1435.30" r="7.6" fill="#ff40ff" stroke="#000" stroke-width="4.6"/>
<circle cx="320.20" cy="1436.90" r="7.6" fill="#ff40ff" stroke="#000" stroke-width="4.6"/>
<circle cx="297.90" cy="1467.90" r="7.6" fill="#ff40ff" stroke="#000" stroke-width="4.6"/>
<circle cx="375.60" cy="1432.60" r="7.6" fill="#00f891" stroke="#000" stroke-width="4.6"/>
<circle cx="408.70" cy="1438.60" r="7.6" fill="#00f891" stroke="#000" stroke-width="4.6"/>
<circle cx="408.70" cy="1457.60" r="7.6" fill="#00f891" stroke="#000" stroke-width="4.6"/>
<circle cx="375.60" cy="1463.50" r="7.6" fill="#00f891" stroke="#000" stroke-width="4.6"/>
<circle cx="383.70" cy="1476.00" r="7.6" fill="#00f891" stroke="#000" stroke-width="4.6"/>
<circle cx="400.60" cy="1471.70" r="7.6" fill="#00f891" stroke="#000" stroke-width="4.6"/>
<circle cx="391.90" cy="1505.90" r="7.6" fill="#00f891" stroke="#000" stroke-width="4.6"/>
<line x1="309.40" y1="1425.50" x2="309.40" y2="1460.30" stroke="#000" stroke-width="4.8" stroke-linecap="butt" />
<line x1="295.20" y1="1425.50" x2="323.60" y2="1425.50" stroke="#000" stroke-width="4.8" stroke-linecap="butt" />
<line x1="295.20" y1="1460.30" x2="323.60" y2="1460.30" stroke="#000" stroke-width="4.8" stroke-linecap="butt" />
<line x1="392.20" y1="1446.70" x2="392.20" y2="1492.90" stroke="#000" stroke-width="4.8" stroke-linecap="butt" />
<line x1="378.00" y1="1446.70" x2="406.40" y2="1446.70" stroke="#000" stroke-width="4.8" stroke-linecap="butt" />
<line x1="378.00" y1="1492.90" x2="406.40" y2="1492.90" stroke="#000" stroke-width="4.8" stroke-linecap="butt" />
<line x1="267.90" y1="1354.20" x2="267.90" y2="1608.70" stroke="#000" stroke-width="5.0" stroke-linecap="butt" />
<line x1="256.90" y1="1606.30" x2="433.90" y2="1606.30" stroke="#000" stroke-width="5.0" stroke-linecap="butt" />
<line x1="256.90" y1="1606.30" x2="267.90" y2="1606.30" stroke="#000" stroke-width="5.0" stroke-linecap="butt" />
<text transform="translate(256.30,1616.60)" font-size="31" text-anchor="end" fill="#000">0</text>
<line x1="256.90" y1="1523.10" x2="267.90" y2="1523.10" stroke="#000" stroke-width="5.0" stroke-linecap="butt" />
<text transform="translate(256.30,1533.40)" font-size="31" text-anchor="end" fill="#000">100</text>
<line x1="256.90" y1="1439.90" x2="267.90" y2="1439.90" stroke="#000" stroke-width="5.0" stroke-linecap="butt" />
<text transform="translate(256.30,1450.20)" font-size="31" text-anchor="end" fill="#000">200</text>
<line x1="256.90" y1="1356.70" x2="267.90" y2="1356.70" stroke="#000" stroke-width="5.0" stroke-linecap="butt" />
<text transform="translate(256.30,1367.00)" font-size="31" text-anchor="end" fill="#000">300</text>
<line x1="309.40" y1="1606.30" x2="309.40" y2="1616.80" stroke="#000" stroke-width="5.0" stroke-linecap="butt" />
<line x1="392.40" y1="1606.30" x2="392.40" y2="1616.80" stroke="#000" stroke-width="5.0" stroke-linecap="butt" />
<text transform="translate(309.20,1649.20) scale(1.02,1)" font-size="31" text-anchor="middle" fill="#000">mock</text>
<text transform="translate(392.20,1649.20) scale(1.02,1)" font-size="31" text-anchor="middle" fill="#000">IAV</text>
<text transform="translate(186.30,1473.70) rotate(-90) scale(0.982,1)" font-size="31" text-anchor="middle" fill="#000">Blood glucose (mg/dl)</text>
<line x1="308.40" y1="1391.00" x2="397.40" y2="1391.00" stroke="#000" stroke-width="5" stroke-linecap="round" />
<text transform="translate(354.80,1382.30) scale(0.975,1)" font-size="39" text-anchor="middle" fill="#000">*</text>
<rect x="639.90" y="1490.40" width="55.50" height="115.90" fill="#ff40ff" stroke="#000" stroke-width="5.0" stroke-linejoin="round"/>
<rect x="722.80" y="1470.60" width="55.60" height="135.70" fill="#00f891" stroke="#000" stroke-width="5.0" stroke-linejoin="round"/>
<line x1="629.10" y1="1578.40" x2="799.40" y2="1578.40" stroke="#000" stroke-width="5.2" stroke-linecap="round" stroke-dasharray="0 10"/>
<circle cx="667.60" cy="1467.20" r="7.15" fill="#ff40ff" stroke="#000" stroke-width="5.5"/>
<circle cx="750.80" cy="1467.70" r="7.15" fill="#00f891" stroke="#000" stroke-width="5.5"/>
<circle cx="746.70" cy="1494.50" r="7.15" fill="#00f891" stroke="#000" stroke-width="5.5"/>
<circle cx="738.60" cy="1492.80" r="7.15" fill="#00f891" stroke="#000" stroke-width="5.5"/>
<circle cx="752.00" cy="1500.00" r="7.15" fill="#00f891" stroke="#000" stroke-width="5.5"/>
<circle cx="650.70" cy="1457.80" r="7.6" fill="#ff40ff" stroke="#000" stroke-width="4.6"/>
<circle cx="684.50" cy="1466.00" r="7.6" fill="#ff40ff" stroke="#000" stroke-width="4.6"/>
<circle cx="656.50" cy="1505.00" r="7.6" fill="#ff40ff" stroke="#000" stroke-width="4.6"/>
<circle cx="679.20" cy="1506.10" r="7.6" fill="#ff40ff" stroke="#000" stroke-width="4.6"/>
<circle cx="667.60" cy="1532.90" r="7.6" fill="#ff40ff" stroke="#000" stroke-width="4.6"/>
<circle cx="739.20" cy="1410.10" r="7.6" fill="#00f891" stroke="#000" stroke-width="4.6"/>
<circle cx="761.90" cy="1405.50" r="7.6" fill="#00f891" stroke="#000" stroke-width="4.6"/>
<circle cx="732.80" cy="1478.80" r="7.6" fill="#00f891" stroke="#000" stroke-width="4.6"/>
<circle cx="768.20" cy="1477.60" r="7.6" fill="#00f891" stroke="#000" stroke-width="4.6"/>
<circle cx="761.30" cy="1492.20" r="7.6" fill="#00f891" stroke="#000" stroke-width="4.6"/>
<line x1="667.90" y1="1458.40" x2="667.90" y2="1519.50" stroke="#000" stroke-width="4.8" stroke-linecap="butt" />
<line x1="653.70" y1="1458.40" x2="682.10" y2="1458.40" stroke="#000" stroke-width="4.8" stroke-linecap="butt" />
<line x1="653.70" y1="1519.50" x2="682.10" y2="1519.50" stroke="#000" stroke-width="4.8" stroke-linecap="butt" />
<line x1="750.70" y1="1438.10" x2="750.70" y2="1502.00" stroke="#000" stroke-width="4.8" stroke-linecap="butt" />
<line x1="736.50" y1="1438.10" x2="764.90" y2="1438.10" stroke="#000" stroke-width="4.8" stroke-linecap="butt" />
<line x1="736.50" y1="1502.00" x2="764.90" y2="1502.00" stroke="#000" stroke-width="4.8" stroke-linecap="butt" />
<line x1="626.40" y1="1354.20" x2="626.40" y2="1608.70" stroke="#000" stroke-width="5.0" stroke-linecap="butt" />
<line x1="615.40" y1="1606.30" x2="792.40" y2="1606.30" stroke="#000" stroke-width="5.0" stroke-linecap="butt" />
<line x1="615.40" y1="1606.30" x2="626.40" y2="1606.30" stroke="#000" stroke-width="5.0" stroke-linecap="butt" />
<text transform="translate(614.80,1616.60)" font-size="31" text-anchor="end" fill="#000">0</text>
<line x1="615.40" y1="1523.10" x2="626.40" y2="1523.10" stroke="#000" stroke-width="5.0" stroke-linecap="butt" />
<text transform="translate(614.80,1533.40)" font-size="31" text-anchor="end" fill="#000">2</text>
<line x1="615.40" y1="1439.90" x2="626.40" y2="1439.90" stroke="#000" stroke-width="5.0" stroke-linecap="butt" />
<text transform="translate(614.80,1450.20)" font-size="31" text-anchor="end" fill="#000">4</text>
<line x1="615.40" y1="1356.70" x2="626.40" y2="1356.70" stroke="#000" stroke-width="5.0" stroke-linecap="butt" />
<text transform="translate(614.80,1367.00)" font-size="31" text-anchor="end" fill="#000">6</text>
<line x1="667.90" y1="1606.30" x2="667.90" y2="1616.80" stroke="#000" stroke-width="5.0" stroke-linecap="butt" />
<line x1="750.90" y1="1606.30" x2="750.90" y2="1616.80" stroke="#000" stroke-width="5.0" stroke-linecap="butt" />
<text transform="translate(667.70,1649.20) scale(1.02,1)" font-size="31" text-anchor="middle" fill="#000">mock</text>
<text transform="translate(750.70,1649.20) scale(1.02,1)" font-size="31" text-anchor="middle" fill="#000">IAV</text>
<text transform="translate(571.20,1473.60) rotate(-90) scale(0.982,1)" font-size="31" text-anchor="middle" fill="#000">Blood insulin (µg/l)</text>
<line x1="670.30" y1="1387.20" x2="753.50" y2="1387.20" stroke="#000" stroke-width="5" stroke-linecap="round" />
<text transform="translate(713.40,1372.70) scale(0.975,1)" font-size="31" text-anchor="middle" fill="#000">ns</text>
<rect x="1000.40" y="1453.00" width="55.50" height="153.30" fill="#ff40ff" stroke="#000" stroke-width="5.0" stroke-linejoin="round"/>
<rect x="1083.30" y="1489.80" width="55.60" height="116.50" fill="#00f891" stroke="#000" stroke-width="5.0" stroke-linejoin="round"/>
<line x1="990.80" y1="1493.00" x2="1161.60" y2="1493.00" stroke="#000" stroke-width="5.2" stroke-linecap="round" stroke-dasharray="0 10"/>
<circle cx="1028.70" cy="1458.90" r="7.15" fill="#ff40ff" stroke="#000" stroke-width="5.5"/>
<circle cx="1111.40" cy="1459.50" r="7.15" fill="#00f891" stroke="#000" stroke-width="5.5"/>
<circle cx="1105.00" cy="1490.90" r="7.15" fill="#00f891" stroke="#000" stroke-width="5.5"/>
<circle cx="1111.40" cy="1520.00" r="7.15" fill="#00f891" stroke="#000" stroke-width="5.5"/>
<circle cx="1111.00" cy="1480.00" r="7.15" fill="#00f891" stroke="#000" stroke-width="5.5"/>
<circle cx="1028.70" cy="1400.70" r="7.6" fill="#ff40ff" stroke="#000" stroke-width="4.6"/>
<circle cx="1045.00" cy="1439.10" r="7.6" fill="#ff40ff" stroke="#000" stroke-width="4.6"/>
<circle cx="1011.90" cy="1453.10" r="7.6" fill="#ff40ff" stroke="#000" stroke-width="4.6"/>
<circle cx="1039.80" cy="1467.60" r="7.6" fill="#ff40ff" stroke="#000" stroke-width="4.6"/>
<circle cx="1017.10" cy="1489.70" r="7.6" fill="#ff40ff" stroke="#000" stroke-width="4.6"/>
<circle cx="1128.80" cy="1443.80" r="7.6" fill="#00f891" stroke="#000" stroke-width="4.6"/>
<circle cx="1095.10" cy="1454.20" r="7.6" fill="#00f891" stroke="#000" stroke-width="4.6"/>
<circle cx="1123.00" cy="1468.20" r="7.6" fill="#00f891" stroke="#000" stroke-width="4.6"/>
<circle cx="1100.30" cy="1474.00" r="7.6" fill="#00f891" stroke="#000" stroke-width="4.6"/>
<circle cx="1118.40" cy="1486.20" r="7.6" fill="#00f891" stroke="#000" stroke-width="4.6"/>
<circle cx="1095.10" cy="1517.70" r="7.6" fill="#00f891" stroke="#000" stroke-width="4.6"/>
<circle cx="1128.80" cy="1513.00" r="7.6" fill="#00f891" stroke="#000" stroke-width="4.6"/>
<circle cx="1111.40" cy="1543.90" r="7.6" fill="#00f891" stroke="#000" stroke-width="4.6"/>
<line x1="1028.40" y1="1421.70" x2="1028.40" y2="1481.60" stroke="#000" stroke-width="4.8" stroke-linecap="butt" />
<line x1="1014.20" y1="1421.70" x2="1042.60" y2="1421.70" stroke="#000" stroke-width="4.8" stroke-linecap="butt" />
<line x1="1014.20" y1="1481.60" x2="1042.60" y2="1481.60" stroke="#000" stroke-width="4.8" stroke-linecap="butt" />
<line x1="1111.20" y1="1456.60" x2="1111.20" y2="1517.70" stroke="#000" stroke-width="4.8" stroke-linecap="butt" />
<line x1="1097.00" y1="1456.60" x2="1125.40" y2="1456.60" stroke="#000" stroke-width="4.8" stroke-linecap="butt" />
<line x1="1097.00" y1="1517.70" x2="1125.40" y2="1517.70" stroke="#000" stroke-width="4.8" stroke-linecap="butt" />
<line x1="986.90" y1="1354.20" x2="986.90" y2="1608.70" stroke="#000" stroke-width="5.0" stroke-linecap="butt" />
<line x1="975.90" y1="1606.30" x2="1152.90" y2="1606.30" stroke="#000" stroke-width="5.0" stroke-linecap="butt" />
<line x1="975.90" y1="1606.30" x2="986.90" y2="1606.30" stroke="#000" stroke-width="5.0" stroke-linecap="butt" />
<text transform="translate(975.30,1616.60)" font-size="31" text-anchor="end" fill="#000">5</text>
<line x1="975.90" y1="1543.90" x2="986.90" y2="1543.90" stroke="#000" stroke-width="5.0" stroke-linecap="butt" />
<text transform="translate(975.30,1554.20)" font-size="31" text-anchor="end" fill="#000">10</text>
<line x1="975.90" y1="1481.50" x2="986.90" y2="1481.50" stroke="#000" stroke-width="5.0" stroke-linecap="butt" />
<text transform="translate(975.30,1491.80)" font-size="31" text-anchor="end" fill="#000">15</text>
<line x1="975.90" y1="1419.10" x2="986.90" y2="1419.10" stroke="#000" stroke-width="5.0" stroke-linecap="butt" />
<text transform="translate(975.30,1429.40)" font-size="31" text-anchor="end" fill="#000">20</text>
<line x1="975.90" y1="1356.70" x2="986.90" y2="1356.70" stroke="#000" stroke-width="5.0" stroke-linecap="butt" />
<text transform="translate(975.30,1367.00)" font-size="31" text-anchor="end" fill="#000">25</text>
<line x1="1028.40" y1="1606.30" x2="1028.40" y2="1616.80" stroke="#000" stroke-width="5.0" stroke-linecap="butt" />
<line x1="1111.40" y1="1606.30" x2="1111.40" y2="1616.80" stroke="#000" stroke-width="5.0" stroke-linecap="butt" />
<text transform="translate(1028.20,1649.20) scale(1.02,1)" font-size="31" text-anchor="middle" fill="#000">mock</text>
<text transform="translate(1111.20,1649.20) scale(1.02,1)" font-size="31" text-anchor="middle" fill="#000">IAV</text>
<text transform="translate(918.50,1474.20) rotate(-90) scale(0.982,1)" font-size="31" text-anchor="middle" fill="#000">Blood resistin (ng/ml)</text>
<line x1="1028.90" y1="1373.80" x2="1112.80" y2="1373.80" stroke="#000" stroke-width="5" stroke-linecap="round" />
<text transform="translate(1072.00,1365.30) scale(0.975,1)" font-size="39" text-anchor="middle" fill="#000">*</text>
<circle cx="253.70" cy="822.60" r="2.6" fill="#ff40ff"/>
<circle cx="263.70" cy="822.60" r="2.6" fill="#ff40ff"/>
<path d="M267.40,815.53 L274.90,829.83 L259.90,829.83 Z" fill="#ff40ff"/>
<circle cx="273.70" cy="822.60" r="2.6" fill="#ff40ff"/>
<text transform="translate(295.40,832.60) scale(0.99,1)" font-size="31" text-anchor="start" fill="#000">mock SD</text>
<circle cx="253.30" cy="863.60" r="2.6" fill="#00f891"/>
<circle cx="263.30" cy="863.60" r="2.6" fill="#00f891"/>
<path d="M267.00,856.53 L274.50,870.83 L259.50,870.83 Z" fill="#00f891"/>
<circle cx="273.30" cy="863.60" r="2.6" fill="#00f891"/>
<text transform="translate(294.60,873.00) scale(0.99,1)" font-size="31" text-anchor="start" fill="#000">IAV SD</text>
<line x1="497.50" y1="822.60" x2="524.50" y2="822.60" stroke="#ff40ff" stroke-width="4.6" stroke-linecap="round" />
<circle cx="510.70" cy="822.60" r="7.7" fill="#ff40ff" stroke="#000" stroke-width="5.0"/>
<text transform="translate(542.60,832.60) scale(0.99,1)" font-size="31" text-anchor="start" fill="#000">mock HFD</text>
<line x1="498.30" y1="863.60" x2="525.00" y2="863.60" stroke="#00f891" stroke-width="4.6" stroke-linecap="round" />
<circle cx="511.80" cy="863.60" r="7.7" fill="#00f891" stroke="#000" stroke-width="5.0"/>
<text transform="translate(539.50,873.00) scale(0.99,1)" font-size="31" text-anchor="start" fill="#000">IAV HFD</text>
<polyline points="282.30,1090.60 311.07,1096.00 339.84,1094.00 368.61,1086.00 397.38,1083.00 426.15,1085.00 454.92,1077.00 483.69,1077.00 512.46,1076.00 541.23,1075.00 570.00,1072.00 598.77,1070.00 627.54,1066.00" fill="none" stroke="#ff40ff" stroke-width="5" stroke-linecap="round" stroke-linejoin="round" stroke-dasharray="0 9.8"/>
<polyline points="282.30,1090.60 311.07,1104.00 339.84,1112.00 368.61,1098.00 397.38,1083.00 426.15,1077.00 454.92,1071.00 483.69,1065.00 512.46,1060.00 541.23,1059.00 570.00,1056.00 598.77,1058.00 627.54,1053.00" fill="none" stroke="#00f891" stroke-width="5" stroke-linecap="round" stroke-linejoin="round" stroke-dasharray="0 9.8"/>
<path d="M311.07,1095.94 L318.42,1108.94 L303.72,1108.94 Z" fill="#00f891"/>
<path d="M311.07,1087.94 L318.42,1100.94 L303.72,1100.94 Z" fill="#ff40ff"/>
<path d="M339.84,1103.94 L347.19,1116.94 L332.49,1116.94 Z" fill="#00f891"/>
<path d="M339.84,1085.94 L347.19,1098.94 L332.49,1098.94 Z" fill="#ff40ff"/>
<path d="M368.61,1089.94 L375.96,1102.94 L361.26,1102.94 Z" fill="#00f891"/>
<path d="M368.61,1077.94 L375.96,1090.94 L361.26,1090.94 Z" fill="#ff40ff"/>
<path d="M397.38,1074.94 L404.73,1087.94 L390.03,1087.94 Z" fill="#00f891"/>
<path d="M397.38,1074.94 L404.73,1087.94 L390.03,1087.94 Z" fill="#ff40ff"/>
<path d="M426.15,1068.94 L433.50,1081.94 L418.80,1081.94 Z" fill="#00f891"/>
<path d="M426.15,1076.94 L433.50,1089.94 L418.80,1089.94 Z" fill="#ff40ff"/>
<path d="M454.92,1062.94 L462.27,1075.94 L447.57,1075.94 Z" fill="#00f891"/>
<path d="M454.92,1068.94 L462.27,1081.94 L447.57,1081.94 Z" fill="#ff40ff"/>
<path d="M483.69,1056.94 L491.04,1069.94 L476.34,1069.94 Z" fill="#00f891"/>
<path d="M483.69,1068.94 L491.04,1081.94 L476.34,1081.94 Z" fill="#ff40ff"/>
<path d="M512.46,1051.94 L519.81,1064.94 L505.11,1064.94 Z" fill="#00f891"/>
<path d="M512.46,1067.94 L519.81,1080.94 L505.11,1080.94 Z" fill="#ff40ff"/>
<path d="M541.23,1050.94 L548.58,1063.94 L533.88,1063.94 Z" fill="#00f891"/>
<path d="M541.23,1066.94 L548.58,1079.94 L533.88,1079.94 Z" fill="#ff40ff"/>
<path d="M570.00,1047.94 L577.35,1060.94 L562.65,1060.94 Z" fill="#00f891"/>
<path d="M570.00,1063.94 L577.35,1076.94 L562.65,1076.94 Z" fill="#ff40ff"/>
<path d="M598.77,1049.94 L606.12,1062.94 L591.42,1062.94 Z" fill="#00f891"/>
<path d="M598.77,1061.94 L606.12,1074.94 L591.42,1074.94 Z" fill="#ff40ff"/>
<path d="M627.54,1044.94 L634.89,1057.94 L620.19,1057.94 Z" fill="#00f891"/>
<path d="M627.54,1057.94 L634.89,1070.94 L620.19,1070.94 Z" fill="#ff40ff"/>
<line x1="311.07" y1="1102.00" x2="311.07" y2="1116.60" stroke="#000" stroke-width="4.8" stroke-linecap="round"/>
<line x1="303.82" y1="1116.60" x2="318.32" y2="1116.60" stroke="#000" stroke-width="4.8" stroke-linecap="round"/>
<line x1="303.82" y1="1102.00" x2="318.32" y2="1102.00" stroke="#000" stroke-width="4.8" stroke-linecap="round"/>
<line x1="339.84" y1="1088.90" x2="339.84" y2="1099.50" stroke="#000" stroke-width="4.8" stroke-linecap="round"/>
<line x1="332.59" y1="1088.90" x2="347.09" y2="1088.90" stroke="#000" stroke-width="4.8" stroke-linecap="round"/>
<line x1="332.59" y1="1099.50" x2="347.09" y2="1099.50" stroke="#000" stroke-width="4.8" stroke-linecap="round"/>
<line x1="368.61" y1="1093.60" x2="368.61" y2="1105.50" stroke="#000" stroke-width="4.8" stroke-linecap="round"/>
<line x1="361.36" y1="1093.60" x2="375.86" y2="1093.60" stroke="#000" stroke-width="4.8" stroke-linecap="round"/>
<line x1="361.36" y1="1105.50" x2="375.86" y2="1105.50" stroke="#000" stroke-width="4.8" stroke-linecap="round"/>
<line x1="397.38" y1="1075.00" x2="397.38" y2="1090.80" stroke="#000" stroke-width="4.8" stroke-linecap="round"/>
<line x1="390.13" y1="1075.00" x2="404.63" y2="1075.00" stroke="#000" stroke-width="4.8" stroke-linecap="round"/>
<line x1="390.13" y1="1082.40" x2="404.63" y2="1082.40" stroke="#000" stroke-width="4.8" stroke-linecap="round"/>
<line x1="390.13" y1="1090.80" x2="404.63" y2="1090.80" stroke="#000" stroke-width="4.8" stroke-linecap="round"/>
<line x1="426.15" y1="1068.40" x2="426.15" y2="1085.00" stroke="#000" stroke-width="4.8" stroke-linecap="round"/>
<line x1="418.90" y1="1068.40" x2="433.40" y2="1068.40" stroke="#000" stroke-width="4.8" stroke-linecap="round"/>
<line x1="418.90" y1="1075.00" x2="433.40" y2="1075.00" stroke="#000" stroke-width="4.8" stroke-linecap="round"/>
<line x1="418.90" y1="1082.40" x2="433.40" y2="1082.40" stroke="#000" stroke-width="4.8" stroke-linecap="round"/>
<line x1="454.92" y1="1064.70" x2="454.92" y2="1080.00" stroke="#000" stroke-width="4.8" stroke-linecap="round"/>
<line x1="447.67" y1="1064.70" x2="462.17" y2="1064.70" stroke="#000" stroke-width="4.8" stroke-linecap="round"/>
<line x1="447.67" y1="1080.00" x2="462.17" y2="1080.00" stroke="#000" stroke-width="4.8" stroke-linecap="round"/>
<line x1="483.69" y1="1059.60" x2="483.69" y2="1077.00" stroke="#000" stroke-width="4.8" stroke-linecap="round"/>
<line x1="476.44" y1="1059.60" x2="490.94" y2="1059.60" stroke="#000" stroke-width="4.8" stroke-linecap="round"/>
<line x1="476.44" y1="1074.00" x2="490.94" y2="1074.00" stroke="#000" stroke-width="4.8" stroke-linecap="round"/>
<line x1="512.46" y1="1049.90" x2="512.46" y2="1076.00" stroke="#000" stroke-width="4.8" stroke-linecap="round"/>
<line x1="505.21" y1="1049.90" x2="519.71" y2="1049.90" stroke="#000" stroke-width="4.8" stroke-linecap="round"/>
<line x1="505.21" y1="1059.20" x2="519.71" y2="1059.20" stroke="#000" stroke-width="4.8" stroke-linecap="round"/>
<line x1="505.21" y1="1064.80" x2="519.71" y2="1064.80" stroke="#000" stroke-width="4.8" stroke-linecap="round"/>
<line x1="541.23" y1="1051.70" x2="541.23" y2="1075.00" stroke="#000" stroke-width="4.8" stroke-linecap="round"/>
<line x1="533.98" y1="1051.70" x2="548.48" y2="1051.70" stroke="#000" stroke-width="4.8" stroke-linecap="round"/>
<line x1="533.98" y1="1063.80" x2="548.48" y2="1063.80" stroke="#000" stroke-width="4.8" stroke-linecap="round"/>
<line x1="533.98" y1="1068.50" x2="548.48" y2="1068.50" stroke="#000" stroke-width="4.8" stroke-linecap="round"/>
<line x1="570.00" y1="1040.60" x2="570.00" y2="1072.00" stroke="#000" stroke-width="4.8" stroke-linecap="round"/>
<line x1="562.75" y1="1040.60" x2="577.25" y2="1040.60" stroke="#000" stroke-width="4.8" stroke-linecap="round"/>
<line x1="562.75" y1="1055.60" x2="577.25" y2="1055.60" stroke="#000" stroke-width="4.8" stroke-linecap="round"/>
<line x1="562.75" y1="1065.40" x2="577.25" y2="1065.40" stroke="#000" stroke-width="4.8" stroke-linecap="round"/>
<line x1="598.77" y1="1043.70" x2="598.77" y2="1070.00" stroke="#000" stroke-width="4.8" stroke-linecap="round"/>
<line x1="591.52" y1="1043.70" x2="606.02" y2="1043.70" stroke="#000" stroke-width="4.8" stroke-linecap="round"/>
<line x1="591.52" y1="1051.40" x2="606.02" y2="1051.40" stroke="#000" stroke-width="4.8" stroke-linecap="round"/>
<line x1="591.52" y1="1066.40" x2="606.02" y2="1066.40" stroke="#000" stroke-width="4.8" stroke-linecap="round"/>
<line x1="627.54" y1="1037.80" x2="627.54" y2="1066.00" stroke="#000" stroke-width="4.8" stroke-linecap="round"/>
<line x1="620.29" y1="1037.80" x2="634.79" y2="1037.80" stroke="#000" stroke-width="4.8" stroke-linecap="round"/>
<line x1="620.29" y1="1049.30" x2="634.79" y2="1049.30" stroke="#000" stroke-width="4.8" stroke-linecap="round"/>
<line x1="620.29" y1="1061.50" x2="634.79" y2="1061.50" stroke="#000" stroke-width="4.8" stroke-linecap="round"/>
<circle cx="282.30" cy="1090.60" r="7.4" fill="#00f891" stroke="#000" stroke-width="5.0"/>
<circle cx="282.30" cy="1090.60" r="7.4" fill="#ff40ff" stroke="#000" stroke-width="5.0"/>
<circle cx="311.07" cy="1106.00" r="7.4" fill="#00f891" stroke="#000" stroke-width="5.0"/>
<circle cx="311.07" cy="1095.00" r="7.4" fill="#ff40ff" stroke="#000" stroke-width="5.0"/>
<circle cx="339.84" cy="1122.20" r="7.4" fill="#00f891" stroke="#000" stroke-width="5.0"/>
<circle cx="339.84" cy="1077.80" r="7.4" fill="#ff40ff" stroke="#000" stroke-width="5.0"/>
<circle cx="368.61" cy="1081.20" r="7.4" fill="#00f891" stroke="#000" stroke-width="5.0"/>
<circle cx="368.61" cy="1050.90" r="7.4" fill="#ff40ff" stroke="#000" stroke-width="5.0"/>
<circle cx="397.38" cy="1056.30" r="7.4" fill="#00f891" stroke="#000" stroke-width="5.0"/>
<circle cx="397.38" cy="1023.80" r="7.4" fill="#ff40ff" stroke="#000" stroke-width="5.0"/>
<circle cx="426.15" cy="1029.30" r="7.4" fill="#00f891" stroke="#000" stroke-width="5.0"/>
<circle cx="426.15" cy="997.70" r="7.4" fill="#ff40ff" stroke="#000" stroke-width="5.0"/>
<circle cx="454.92" cy="1007.70" r="7.4" fill="#00f891" stroke="#000" stroke-width="5.0"/>
<circle cx="454.92" cy="984.50" r="7.4" fill="#ff40ff" stroke="#000" stroke-width="5.0"/>
<circle cx="483.69" cy="991.00" r="7.4" fill="#00f891" stroke="#000" stroke-width="5.0"/>
<circle cx="483.69" cy="973.30" r="7.4" fill="#ff40ff" stroke="#000" stroke-width="5.0"/>
<circle cx="512.46" cy="971.40" r="7.4" fill="#00f891" stroke="#000" stroke-width="5.0"/>
<circle cx="512.46" cy="960.70" r="7.4" fill="#ff40ff" stroke="#000" stroke-width="5.0"/>
<circle cx="541.23" cy="965.90" r="7.4" fill="#00f891" stroke="#000" stroke-width="5.0"/>
<circle cx="541.23" cy="953.80" r="7.4" fill="#ff40ff" stroke="#000" stroke-width="5.0"/>
<circle cx="570.00" cy="960.10" r="7.4" fill="#00f891" stroke="#000" stroke-width="5.0"/>
<circle cx="570.00" cy="941.10" r="7.4" fill="#ff40ff" stroke="#000" stroke-width="5.0"/>
<circle cx="598.77" cy="962.40" r="7.4" fill="#00f891" stroke="#000" stroke-width="5.0"/>
<circle cx="598.77" cy="943.00" r="7.4" fill="#ff40ff" stroke="#000" stroke-width="5.0"/>
<circle cx="627.54" cy="959.70" r="7.4" fill="#00f891" stroke="#000" stroke-width="5.0"/>
<circle cx="627.54" cy="933.60" r="7.4" fill="#ff40ff" stroke="#000" stroke-width="5.0"/>
<polyline points="282.30,1090.60 311.07,1106.00 339.84,1122.20 368.61,1081.20 397.38,1056.30 426.15,1029.30 454.92,1007.70 483.69,991.00 512.46,971.40 541.23,965.90 570.00,960.10 598.77,962.40 627.54,959.70" fill="none" stroke="#00f891" stroke-width="5.2" stroke-linecap="round" stroke-linejoin="round" stroke-dasharray="11 14"/>
<polyline points="282.30,1090.60 311.07,1095.00 339.84,1077.80 368.61,1050.90 397.38,1023.80 426.15,997.70 454.92,984.50 483.69,973.30 512.46,960.70 541.23,953.80 570.00,941.10 598.77,943.00 627.54,933.60" fill="none" stroke="#ff40ff" stroke-width="5.2" stroke-linecap="round" stroke-linejoin="round"/>
<line x1="311.07" y1="1094.00" x2="311.07" y2="1106.00" stroke="#000" stroke-width="4.8" stroke-linecap="round"/>
<line x1="303.82" y1="1094.00" x2="318.32" y2="1094.00" stroke="#000" stroke-width="4.8" stroke-linecap="round"/>
<line x1="311.07" y1="1085.90" x2="311.07" y2="1095.00" stroke="#000" stroke-width="4.8" stroke-linecap="round"/>
<line x1="303.82" y1="1085.90" x2="318.32" y2="1085.90" stroke="#000" stroke-width="4.8" stroke-linecap="round"/>
<line x1="339.84" y1="1107.60" x2="339.84" y2="1122.20" stroke="#000" stroke-width="4.8" stroke-linecap="round"/>
<line x1="332.59" y1="1107.60" x2="347.09" y2="1107.60" stroke="#000" stroke-width="4.8" stroke-linecap="round"/>
<line x1="339.84" y1="1069.20" x2="339.84" y2="1077.80" stroke="#000" stroke-width="4.8" stroke-linecap="round"/>
<line x1="332.59" y1="1069.20" x2="347.09" y2="1069.20" stroke="#000" stroke-width="4.8" stroke-linecap="round"/>
<line x1="368.61" y1="1067.50" x2="368.61" y2="1081.20" stroke="#000" stroke-width="4.8" stroke-linecap="round"/>
<line x1="361.36" y1="1067.50" x2="375.86" y2="1067.50" stroke="#000" stroke-width="4.8" stroke-linecap="round"/>
<line x1="368.61" y1="1041.10" x2="368.61" y2="1050.90" stroke="#000" stroke-width="4.8" stroke-linecap="round"/>
<line x1="361.36" y1="1041.10" x2="375.86" y2="1041.10" stroke="#000" stroke-width="4.8" stroke-linecap="round"/>
<line x1="397.38" y1="1034.00" x2="397.38" y2="1056.30" stroke="#000" stroke-width="4.8" stroke-linecap="round"/>
<line x1="390.13" y1="1034.00" x2="404.63" y2="1034.00" stroke="#000" stroke-width="4.8" stroke-linecap="round"/>
<line x1="397.38" y1="1008.90" x2="397.38" y2="1023.80" stroke="#000" stroke-width="4.8" stroke-linecap="round"/>
<line x1="390.13" y1="1008.90" x2="404.63" y2="1008.90" stroke="#000" stroke-width="4.8" stroke-linecap="round"/>
<line x1="426.15" y1="1005.10" x2="426.15" y2="1029.30" stroke="#000" stroke-width="4.8" stroke-linecap="round"/>
<line x1="418.90" y1="1005.10" x2="433.40" y2="1005.10" stroke="#000" stroke-width="4.8" stroke-linecap="round"/>
<line x1="426.15" y1="984.20" x2="426.15" y2="997.70" stroke="#000" stroke-width="4.8" stroke-linecap="round"/>
<line x1="418.90" y1="984.20" x2="433.40" y2="984.20" stroke="#000" stroke-width="4.8" stroke-linecap="round"/>
<line x1="454.92" y1="992.00" x2="454.92" y2="1007.70" stroke="#000" stroke-width="4.8" stroke-linecap="round"/>
<line x1="447.67" y1="992.00" x2="462.17" y2="992.00" stroke="#000" stroke-width="4.8" stroke-linecap="round"/>
<line x1="454.92" y1="967.70" x2="454.92" y2="984.50" stroke="#000" stroke-width="4.8" stroke-linecap="round"/>
<line x1="447.67" y1="967.70" x2="462.17" y2="967.70" stroke="#000" stroke-width="4.8" stroke-linecap="round"/>
<line x1="483.69" y1="979.00" x2="483.69" y2="991.00" stroke="#000" stroke-width="4.8" stroke-linecap="round"/>
<line x1="476.44" y1="979.00" x2="490.94" y2="979.00" stroke="#000" stroke-width="4.8" stroke-linecap="round"/>
<line x1="483.69" y1="959.80" x2="483.69" y2="973.30" stroke="#000" stroke-width="4.8" stroke-linecap="round"/>
<line x1="476.44" y1="959.80" x2="490.94" y2="959.80" stroke="#000" stroke-width="4.8" stroke-linecap="round"/>
<line x1="512.46" y1="961.00" x2="512.46" y2="971.40" stroke="#000" stroke-width="4.8" stroke-linecap="round"/>
<line x1="505.21" y1="961.00" x2="519.71" y2="961.00" stroke="#000" stroke-width="4.8" stroke-linecap="round"/>
<line x1="512.46" y1="948.00" x2="512.46" y2="960.70" stroke="#000" stroke-width="4.8" stroke-linecap="round"/>
<line x1="505.21" y1="948.00" x2="519.71" y2="948.00" stroke="#000" stroke-width="4.8" stroke-linecap="round"/>
<line x1="541.23" y1="957.00" x2="541.23" y2="965.90" stroke="#000" stroke-width="4.8" stroke-linecap="round"/>
<line x1="533.98" y1="957.00" x2="548.48" y2="957.00" stroke="#000" stroke-width="4.8" stroke-linecap="round"/>
<line x1="541.23" y1="941.70" x2="541.23" y2="953.80" stroke="#000" stroke-width="4.8" stroke-linecap="round"/>
<line x1="533.98" y1="941.70" x2="548.48" y2="941.70" stroke="#000" stroke-width="4.8" stroke-linecap="round"/>
<line x1="570.00" y1="948.40" x2="570.00" y2="960.10" stroke="#000" stroke-width="4.8" stroke-linecap="round"/>
<line x1="562.75" y1="948.40" x2="577.25" y2="948.40" stroke="#000" stroke-width="4.8" stroke-linecap="round"/>
<line x1="570.00" y1="927.90" x2="570.00" y2="941.10" stroke="#000" stroke-width="4.8" stroke-linecap="round"/>
<line x1="562.75" y1="927.90" x2="577.25" y2="927.90" stroke="#000" stroke-width="4.8" stroke-linecap="round"/>
<line x1="598.77" y1="949.60" x2="598.77" y2="962.40" stroke="#000" stroke-width="4.8" stroke-linecap="round"/>
<line x1="591.52" y1="949.60" x2="606.02" y2="949.60" stroke="#000" stroke-width="4.8" stroke-linecap="round"/>
<line x1="598.77" y1="929.40" x2="598.77" y2="943.00" stroke="#000" stroke-width="4.8" stroke-linecap="round"/>
<line x1="591.52" y1="929.40" x2="606.02" y2="929.40" stroke="#000" stroke-width="4.8" stroke-linecap="round"/>
<line x1="627.54" y1="945.70" x2="627.54" y2="959.70" stroke="#000" stroke-width="4.8" stroke-linecap="round"/>
<line x1="620.29" y1="945.70" x2="634.79" y2="945.70" stroke="#000" stroke-width="4.8" stroke-linecap="round"/>
<line x1="627.54" y1="920.50" x2="627.54" y2="933.60" stroke="#000" stroke-width="4.8" stroke-linecap="round"/>
<line x1="620.29" y1="920.50" x2="634.79" y2="920.50" stroke="#000" stroke-width="4.8" stroke-linecap="round"/>
<line x1="267.70" y1="909.60" x2="267.70" y2="1164.40" stroke="#000" stroke-width="5.0" stroke-linecap="butt" />
<line x1="265.20" y1="1162.00" x2="642.80" y2="1162.00" stroke="#000" stroke-width="5.0" stroke-linecap="butt" />
<line x1="256.70" y1="1090.30" x2="267.70" y2="1090.30" stroke="#000" stroke-width="5.0" stroke-linecap="butt" />
<text transform="translate(256.10,1100.50)" font-size="31" text-anchor="end" fill="#000">100</text>
<line x1="256.70" y1="1001.20" x2="267.70" y2="1001.20" stroke="#000" stroke-width="5.0" stroke-linecap="butt" />
<text transform="translate(256.10,1011.40)" font-size="31" text-anchor="end" fill="#000">150</text>
<line x1="256.70" y1="912.10" x2="267.70" y2="912.10" stroke="#000" stroke-width="5.0" stroke-linecap="butt" />
<text transform="translate(256.10,922.30)" font-size="31" text-anchor="end" fill="#000">200</text>
<line x1="282.30" y1="1162.00" x2="282.30" y2="1171.70" stroke="#000" stroke-width="5.0" stroke-linecap="butt" />
<text transform="translate(282.30,1200.50)" font-size="31" text-anchor="middle" fill="#000">0</text>
<line x1="311.07" y1="1162.00" x2="311.07" y2="1171.70" stroke="#000" stroke-width="5.0" stroke-linecap="butt" />
<text transform="translate(311.07,1200.50)" font-size="31" text-anchor="middle" fill="#000">1</text>
<line x1="339.84" y1="1162.00" x2="339.84" y2="1171.70" stroke="#000" stroke-width="5.0" stroke-linecap="butt" />
<text transform="translate(339.84,1200.50)" font-size="31" text-anchor="middle" fill="#000">2</text>
<line x1="368.61" y1="1162.00" x2="368.61" y2="1171.70" stroke="#000" stroke-width="5.0" stroke-linecap="butt" />
<line x1="397.38" y1="1162.00" x2="397.38" y2="1171.70" stroke="#000" stroke-width="5.0" stroke-linecap="butt" />
<text transform="translate(397.38,1200.50)" font-size="31" text-anchor="middle" fill="#000">6</text>
<line x1="426.15" y1="1162.00" x2="426.15" y2="1171.70" stroke="#000" stroke-width="5.0" stroke-linecap="butt" />
<line x1="454.92" y1="1162.00" x2="454.92" y2="1171.70" stroke="#000" stroke-width="5.0" stroke-linecap="butt" />
<text transform="translate(454.92,1200.50)" font-size="31" text-anchor="middle" fill="#000">10</text>
<line x1="483.69" y1="1162.00" x2="483.69" y2="1171.70" stroke="#000" stroke-width="5.0" stroke-linecap="butt" />
<line x1="512.46" y1="1162.00" x2="512.46" y2="1171.70" stroke="#000" stroke-width="5.0" stroke-linecap="butt" />
<text transform="translate(512.46,1200.50)" font-size="31" text-anchor="middle" fill="#000">18</text>
<line x1="541.23" y1="1162.00" x2="541.23" y2="1171.70" stroke="#000" stroke-width="5.0" stroke-linecap="butt" />
<line x1="570.00" y1="1162.00" x2="570.00" y2="1171.70" stroke="#000" stroke-width="5.0" stroke-linecap="butt" />
<text transform="translate(570.00,1200.50)" font-size="31" text-anchor="middle" fill="#000">22</text>
<line x1="598.77" y1="1162.00" x2="598.77" y2="1171.70" stroke="#000" stroke-width="5.0" stroke-linecap="butt" />
<line x1="627.54" y1="1162.00" x2="627.54" y2="1171.70" stroke="#000" stroke-width="5.0" stroke-linecap="butt" />
<text transform="translate(627.54,1200.50)" font-size="31" text-anchor="middle" fill="#000">24</text>
<text transform="translate(455.00,1240.00) scale(0.975,1)" font-size="31" text-anchor="middle" fill="#000">Time (weeks)</text>
<text transform="translate(185.30,1028.70) rotate(-90) scale(0.982,1)" font-size="31" text-anchor="middle" fill="#000">Body weight change (%)</text>
<line x1="312.50" y1="1226.00" x2="312.50" y2="1260.00" stroke="#000" stroke-width="4.4" stroke-linecap="round" />
<path d="M312.3,1208.3 L320.5,1227.6 L304.1,1227.6 Z" fill="#000"/>
<line x1="643.40" y1="963.90" x2="643.40" y2="1044.60" stroke="#000" stroke-width="5" stroke-linecap="round" />
<line x1="674.50" y1="935.10" x2="674.50" y2="1065.10" stroke="#000" stroke-width="5" stroke-linecap="round" />
<text transform="translate(678.30,999.50) rotate(-90)" font-size="39.5" text-anchor="middle" fill="#000">****</text>
<text transform="translate(710.30,998.10) rotate(-90)" font-size="39.5" text-anchor="middle" fill="#000">****</text>
<circle cx="865.20" cy="822.60" r="2.6" fill="#ff40ff"/>
<circle cx="875.20" cy="822.60" r="2.6" fill="#ff40ff"/>
<path d="M878.90,815.53 L886.40,829.83 L871.40,829.83 Z" fill="#ff40ff"/>
<circle cx="885.20" cy="822.60" r="2.6" fill="#ff40ff"/>
<text transform="translate(906.50,832.80) scale(0.99,1)" font-size="31" text-anchor="start" fill="#000">mock SD</text>
<circle cx="861.90" cy="864.30" r="2.6" fill="#00f891"/>
<circle cx="871.90" cy="864.30" r="2.6" fill="#00f891"/>
<path d="M875.60,857.23 L883.10,871.53 L868.10,871.53 Z" fill="#00f891"/>
<circle cx="881.90" cy="864.30" r="2.6" fill="#00f891"/>
<text transform="translate(903.40,874.60) scale(0.99,1)" font-size="31" text-anchor="start" fill="#000">IAV SD</text>
<line x1="1096.10" y1="822.60" x2="1123.60" y2="822.60" stroke="#ff40ff" stroke-width="4.6" stroke-linecap="round" />
<circle cx="1109.70" cy="822.60" r="7.7" fill="#ff40ff" stroke="#000" stroke-width="5.0"/>
<text transform="translate(1137.70,832.80) scale(0.99,1)" font-size="31" text-anchor="start" fill="#000">mock HFD</text>
<line x1="1096.90" y1="864.30" x2="1124.20" y2="864.30" stroke="#00f891" stroke-width="4.6" stroke-linecap="round" />
<circle cx="1110.80" cy="864.30" r="7.7" fill="#00f891" stroke="#000" stroke-width="5.0"/>
<text transform="translate(1138.20,874.60) scale(0.99,1)" font-size="31" text-anchor="start" fill="#000">IAV HFD</text>
<polyline points="880.30,1112.00 943.30,1049.00 1006.00,1034.00 1068.70,1077.00 1131.10,1111.70 1193.10,1114.50" fill="none" stroke="#ff40ff" stroke-width="5" stroke-linecap="round" stroke-linejoin="round" stroke-dasharray="0 9.8"/>
<polyline points="880.30,1097.00 943.30,1035.00 1006.00,1040.00 1068.70,1054.00 1131.10,1098.70 1193.10,1111.70" fill="none" stroke="#00f891" stroke-width="5" stroke-linecap="round" stroke-linejoin="round" stroke-dasharray="0 9.8"/>
<path d="M880.30,1088.94 L887.65,1101.94 L872.95,1101.94 Z" fill="#00f891"/>
<path d="M880.30,1103.94 L887.65,1116.94 L872.95,1116.94 Z" fill="#ff40ff"/>
<path d="M943.30,1026.94 L950.65,1039.94 L935.95,1039.94 Z" fill="#00f891"/>
<path d="M943.30,1040.94 L950.65,1053.94 L935.95,1053.94 Z" fill="#ff40ff"/>
<path d="M1006.00,1031.94 L1013.35,1044.94 L998.65,1044.94 Z" fill="#00f891"/>
<path d="M1006.00,1025.94 L1013.35,1038.94 L998.65,1038.94 Z" fill="#ff40ff"/>
<path d="M1068.70,1045.94 L1076.05,1058.94 L1061.35,1058.94 Z" fill="#00f891"/>
<path d="M1068.70,1068.94 L1076.05,1081.94 L1061.35,1081.94 Z" fill="#ff40ff"/>
<path d="M1131.10,1090.64 L1138.45,1103.64 L1123.75,1103.64 Z" fill="#00f891"/>
<path d="M1131.10,1103.64 L1138.45,1116.64 L1123.75,1116.64 Z" fill="#ff40ff"/>
<path d="M1193.10,1103.64 L1200.45,1116.64 L1185.75,1116.64 Z" fill="#00f891"/>
<path d="M1193.10,1106.44 L1200.45,1119.44 L1185.75,1119.44 Z" fill="#ff40ff"/>
<circle cx="880.30" cy="1085.30" r="7.4" fill="#00f891" stroke="#000" stroke-width="5.0"/>
<circle cx="880.30" cy="1076.00" r="7.4" fill="#ff40ff" stroke="#000" stroke-width="5.0"/>
<circle cx="943.30" cy="1005.50" r="7.4" fill="#00f891" stroke="#000" stroke-width="5.0"/>
<circle cx="943.30" cy="999.60" r="7.4" fill="#ff40ff" stroke="#000" stroke-width="5.0"/>
<circle cx="1006.00" cy="1002.30" r="7.4" fill="#00f891" stroke="#000" stroke-width="5.0"/>
<circle cx="1006.00" cy="990.30" r="7.4" fill="#ff40ff" stroke="#000" stroke-width="5.0"/>
<circle cx="1068.70" cy="1034.80" r="7.4" fill="#00f891" stroke="#000" stroke-width="5.0"/>
<circle cx="1068.70" cy="1017.70" r="7.4" fill="#ff40ff" stroke="#000" stroke-width="5.0"/>
<circle cx="1131.10" cy="1066.50" r="7.4" fill="#00f891" stroke="#000" stroke-width="5.0"/>
<circle cx="1131.10" cy="1063.30" r="7.4" fill="#ff40ff" stroke="#000" stroke-width="5.0"/>
<circle cx="1193.10" cy="1080.10" r="7.4" fill="#00f891" stroke="#000" stroke-width="5.0"/>
<circle cx="1193.10" cy="1075.40" r="7.4" fill="#ff40ff" stroke="#000" stroke-width="5.0"/>
<polyline points="880.30,1085.30 943.30,1005.50 1006.00,1002.30 1068.70,1034.80 1131.10,1066.50 1193.10,1080.10" fill="none" stroke="#00f891" stroke-width="5.0" stroke-linecap="round" stroke-linejoin="round"/>
<polyline points="880.30,1076.00 943.30,999.60 1006.00,990.30 1068.70,1017.70 1131.10,1063.30 1193.10,1075.40" fill="none" stroke="#ff40ff" stroke-width="5.6" stroke-linecap="round" stroke-linejoin="round"/>
<line x1="880.30" y1="1068.80" x2="880.30" y2="1112.00" stroke="#000" stroke-width="4.8" stroke-linecap="round"/>
<line x1="873.05" y1="1068.80" x2="887.55" y2="1068.80" stroke="#000" stroke-width="4.8" stroke-linecap="round"/>
<line x1="873.05" y1="1098.50" x2="887.55" y2="1098.50" stroke="#000" stroke-width="4.8" stroke-linecap="round"/>
<line x1="873.05" y1="1107.70" x2="887.55" y2="1107.70" stroke="#000" stroke-width="4.8" stroke-linecap="round"/>
<line x1="943.30" y1="974.50" x2="943.30" y2="1005.50" stroke="#000" stroke-width="4.8" stroke-linecap="round"/>
<line x1="943.30" y1="1029.20" x2="943.30" y2="1049.00" stroke="#000" stroke-width="4.8" stroke-linecap="round"/>
<line x1="936.05" y1="974.50" x2="950.55" y2="974.50" stroke="#000" stroke-width="4.8" stroke-linecap="round"/>
<line x1="936.05" y1="1029.20" x2="950.55" y2="1029.20" stroke="#000" stroke-width="4.8" stroke-linecap="round"/>
<line x1="936.05" y1="1037.80" x2="950.55" y2="1037.80" stroke="#000" stroke-width="4.8" stroke-linecap="round"/>
<line x1="1006.00" y1="955.90" x2="1006.00" y2="1047.90" stroke="#000" stroke-width="4.8" stroke-linecap="round"/>
<line x1="998.75" y1="955.90" x2="1013.25" y2="955.90" stroke="#000" stroke-width="4.8" stroke-linecap="round"/>
<line x1="998.75" y1="1038.70" x2="1013.25" y2="1038.70" stroke="#000" stroke-width="4.8" stroke-linecap="round"/>
<line x1="998.75" y1="1047.90" x2="1013.25" y2="1047.90" stroke="#000" stroke-width="4.8" stroke-linecap="round"/>
<line x1="1068.70" y1="986.30" x2="1068.70" y2="1077.00" stroke="#000" stroke-width="4.8" stroke-linecap="round"/>
<line x1="1061.45" y1="986.30" x2="1075.95" y2="986.30" stroke="#000" stroke-width="4.8" stroke-linecap="round"/>
<line x1="1061.45" y1="1047.90" x2="1075.95" y2="1047.90" stroke="#000" stroke-width="4.8" stroke-linecap="round"/>
<line x1="1061.45" y1="1055.80" x2="1075.95" y2="1055.80" stroke="#000" stroke-width="4.8" stroke-linecap="round"/>
<line x1="1061.45" y1="1058.70" x2="1075.95" y2="1058.70" stroke="#000" stroke-width="4.8" stroke-linecap="round"/>
<line x1="1131.10" y1="1043.30" x2="1131.10" y2="1066.50" stroke="#000" stroke-width="4.8" stroke-linecap="round"/>
<line x1="1131.10" y1="1095.00" x2="1131.10" y2="1111.70" stroke="#000" stroke-width="4.8" stroke-linecap="round"/>
<line x1="1123.85" y1="1043.30" x2="1138.35" y2="1043.30" stroke="#000" stroke-width="4.8" stroke-linecap="round"/>
<line x1="1123.85" y1="1051.20" x2="1138.35" y2="1051.20" stroke="#000" stroke-width="4.8" stroke-linecap="round"/>
<line x1="1123.85" y1="1095.00" x2="1138.35" y2="1095.00" stroke="#000" stroke-width="4.8" stroke-linecap="round"/>
<line x1="1123.85" y1="1102.40" x2="1138.35" y2="1102.40" stroke="#000" stroke-width="4.8" stroke-linecap="round"/>
<line x1="1193.10" y1="1063.30" x2="1193.10" y2="1080.10" stroke="#000" stroke-width="4.8" stroke-linecap="round"/>
<line x1="1193.10" y1="1108.50" x2="1193.10" y2="1116.80" stroke="#000" stroke-width="4.8" stroke-linecap="round"/>
<line x1="1185.85" y1="1063.30" x2="1200.35" y2="1063.30" stroke="#000" stroke-width="4.8" stroke-linecap="round"/>
<line x1="1185.85" y1="1066.60" x2="1200.35" y2="1066.60" stroke="#000" stroke-width="4.8" stroke-linecap="round"/>
<line x1="1185.85" y1="1108.50" x2="1200.35" y2="1108.50" stroke="#000" stroke-width="4.8" stroke-linecap="round"/>
<line x1="1185.85" y1="1116.80" x2="1200.35" y2="1116.80" stroke="#000" stroke-width="4.8" stroke-linecap="round"/>
<line x1="850.00" y1="909.00" x2="850.00" y2="1163.90" stroke="#000" stroke-width="5.0" stroke-linecap="butt" />
<line x1="838.40" y1="1161.50" x2="1224.80" y2="1161.50" stroke="#000" stroke-width="5.0" stroke-linecap="butt" />
<line x1="839.00" y1="1161.50" x2="850.00" y2="1161.50" stroke="#000" stroke-width="5.0" stroke-linecap="butt" />
<text transform="translate(838.40,1171.70)" font-size="31" text-anchor="end" fill="#000">0</text>
<line x1="839.00" y1="1111.50" x2="850.00" y2="1111.50" stroke="#000" stroke-width="5.0" stroke-linecap="butt" />
<text transform="translate(838.40,1121.70)" font-size="31" text-anchor="end" fill="#000">100</text>
<line x1="839.00" y1="1061.50" x2="850.00" y2="1061.50" stroke="#000" stroke-width="5.0" stroke-linecap="butt" />
<text transform="translate(838.40,1071.70)" font-size="31" text-anchor="end" fill="#000">200</text>
<line x1="839.00" y1="1011.50" x2="850.00" y2="1011.50" stroke="#000" stroke-width="5.0" stroke-linecap="butt" />
<text transform="translate(838.40,1021.70)" font-size="31" text-anchor="end" fill="#000">300</text>
<line x1="839.00" y1="961.50" x2="850.00" y2="961.50" stroke="#000" stroke-width="5.0" stroke-linecap="butt" />
<text transform="translate(838.40,971.70)" font-size="31" text-anchor="end" fill="#000">400</text>
<line x1="839.00" y1="911.50" x2="850.00" y2="911.50" stroke="#000" stroke-width="5.0" stroke-linecap="butt" />
<text transform="translate(838.40,921.70)" font-size="31" text-anchor="end" fill="#000">500</text>
<line x1="880.30" y1="1161.50" x2="880.30" y2="1172.00" stroke="#000" stroke-width="5.0" stroke-linecap="butt" />
<text transform="translate(880.30,1200.30)" font-size="31" text-anchor="middle" fill="#000">0</text>
<line x1="943.30" y1="1161.50" x2="943.30" y2="1172.00" stroke="#000" stroke-width="5.0" stroke-linecap="butt" />
<text transform="translate(943.30,1200.30)" font-size="31" text-anchor="middle" fill="#000">15</text>
<line x1="1006.00" y1="1161.50" x2="1006.00" y2="1172.00" stroke="#000" stroke-width="5.0" stroke-linecap="butt" />
<text transform="translate(1006.00,1200.30)" font-size="31" text-anchor="middle" fill="#000">30</text>
<line x1="1068.70" y1="1161.50" x2="1068.70" y2="1172.00" stroke="#000" stroke-width="5.0" stroke-linecap="butt" />
<text transform="translate(1068.70,1200.30)" font-size="31" text-anchor="middle" fill="#000">60</text>
<line x1="1131.10" y1="1161.50" x2="1131.10" y2="1172.00" stroke="#000" stroke-width="5.0" stroke-linecap="butt" />
<text transform="translate(1131.10,1200.30)" font-size="31" text-anchor="middle" fill="#000">120</text>
<line x1="1193.10" y1="1161.50" x2="1193.10" y2="1172.00" stroke="#000" stroke-width="5.0" stroke-linecap="butt" />
<text transform="translate(1193.10,1200.30)" font-size="31" text-anchor="middle" fill="#000">180</text>
<text transform="translate(1038.20,1239.80) scale(0.99,1)" font-size="31" text-anchor="middle" fill="#000">Time (minutes)</text>
<text transform="translate(771.50,1028.50) rotate(-90) scale(0.982,1)" font-size="31" text-anchor="middle" fill="#000">Glucose (mg/dl)</text>
<line x1="1213.60" y1="1079.50" x2="1213.60" y2="1120.00" stroke="#000" stroke-width="5" stroke-linecap="round" />
<line x1="1246.40" y1="1061.30" x2="1246.40" y2="1143.30" stroke="#000" stroke-width="5" stroke-linecap="round" />
<text transform="translate(1249.30,1099.70) rotate(-90)" font-size="39.5" text-anchor="middle" fill="#000">****</text>
<text transform="translate(1283.40,1099.70) rotate(-90)" font-size="39.5" text-anchor="middle" fill="#000">****</text>
</svg></body></html>
